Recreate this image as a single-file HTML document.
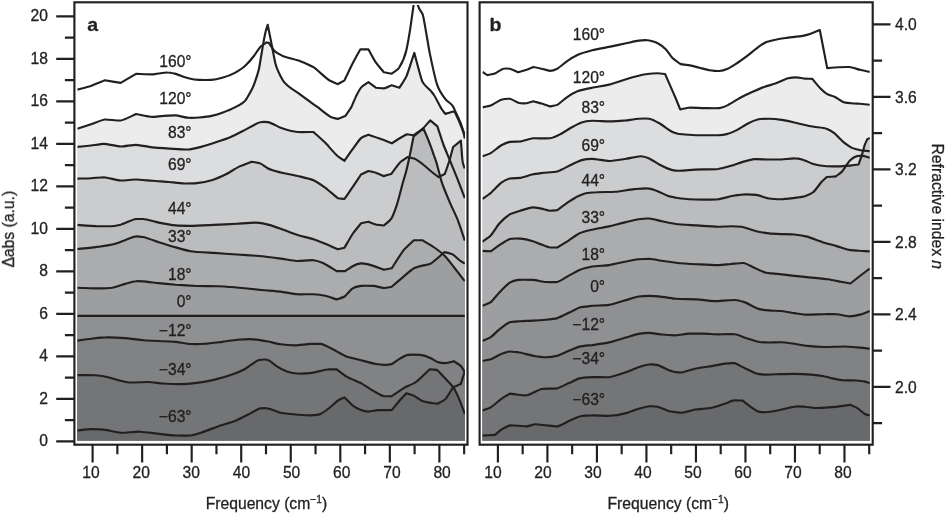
<!DOCTYPE html>
<html lang="en"><head><meta charset="utf-8"><title>Figure</title>
<style>html,body{margin:0;padding:0;background:#fff}body{width:946px;height:513px;overflow:hidden}svg{display:block}
text{font-family:"Liberation Sans",Arial,Helvetica,sans-serif;fill:#231f20;stroke:#231f20;stroke-width:0.3px}
.c{fill:none;stroke:#231f20;stroke-width:2.15;stroke-linejoin:round;stroke-linecap:butt}
.t{stroke:#231f20;stroke-width:2.15;fill:none}
</style></head><body>
<svg width="946" height="513" viewBox="0 0 946 513">
<rect width="946" height="513" fill="#fff"/>
<defs>
<clipPath id="ca"><rect x="77.3" y="4.9" width="387.7" height="435.7"/></clipPath>
<clipPath id="cb"><rect x="482.5" y="4.9" width="387.4" height="435.7"/></clipPath>
</defs>
<g clip-path="url(#ca)">
<path d="M77.3,89.6C79.9,88.9 87.5,87.1 90.1,86.3C93.1,85.3 101.9,81.5 104.9,80.3C108.1,80.8 117.5,82.4 120.7,82.9C123.8,81.1 132.9,75.6 136.0,73.8C139.3,73.9 149.2,74.5 152.5,74.4C155.5,74.3 164.7,72.4 167.7,72.5C169.1,72.5 173.3,73.3 174.7,73.6C177.4,74.2 185.7,77.6 188.4,78.2C190.5,78.7 196.9,79.8 199.0,79.9C201.5,80.0 209.1,80.0 211.6,79.9C213.7,79.8 220.1,78.4 222.2,77.8C224.7,77.1 232.4,74.3 234.9,72.9C237.0,71.7 243.4,67.5 245.5,65.5C247.2,63.9 252.2,58.2 253.9,56.0C255.2,54.3 259.0,48.3 260.3,46.9C261.6,45.5 265.3,43.2 266.6,42.3C267.1,42.4 268.5,42.9 269.0,43.0C270.1,44.5 273.2,49.5 274.3,50.7C276.0,52.6 281.1,55.1 282.8,56.0C286.2,57.7 296.3,59.6 299.7,60.9C302.5,62.0 310.7,65.5 313.5,67.2C316.7,69.2 326.1,78.5 329.3,80.3C331.0,81.3 336.1,83.3 337.8,84.1C339.1,83.3 343.2,81.1 344.5,80.3C346.1,76.9 351.0,66.5 352.6,63.4C354.2,60.4 358.8,52.1 360.4,49.3C362.0,49.3 366.8,49.3 368.4,49.3C369.9,51.9 374.3,60.2 375.8,62.4C377.4,64.8 382.3,70.3 383.9,72.3C385.5,72.6 390.1,73.3 391.7,73.6C393.2,72.4 397.6,70.1 399.1,67.7C400.6,65.3 405.0,56.4 406.5,49.7C407.2,46.4 409.4,34.2 410.1,29.6C410.8,25.3 412.8,10.5 413.5,5.7C413.9,2.8 415.2,-6.1 415.6,-9.0C416.1,-6.1 417.6,3.4 418.1,5.7C419.0,9.9 421.9,11.6 422.8,14.8C424.2,19.5 428.3,46.1 429.7,52.9C431.2,60.2 435.6,80.0 437.1,84.6C438.8,89.9 443.9,97.2 445.6,99.4C447.1,101.4 451.6,103.6 453.1,106.5C453.5,107.3 454.7,110.0 455.1,110.9C456.2,113.2 459.3,119.8 460.4,122.5C461.3,124.8 463.9,132.7 464.8,135.2L465.8,135.2V442.6H76.3V89.6Z" fill="#ffffff"/>
<path d="M77.3,128.7C80.1,127.8 88.3,125.2 91.1,124.3C93.9,123.4 102.1,119.7 104.9,119.5C108.1,119.3 117.5,120.8 120.7,120.5C123.8,120.2 132.9,115.3 136.0,114.0C139.3,114.6 149.2,116.9 152.5,116.9C154.6,116.9 160.9,116.0 163.0,115.9C165.5,115.7 173.2,115.3 175.7,115.4C178.2,115.5 185.9,117.7 188.4,117.8C190.5,117.9 196.9,117.7 199.0,117.5C201.5,117.3 209.1,116.5 211.6,115.9C213.7,115.4 220.1,113.5 222.2,112.7C224.7,111.8 232.4,108.8 234.9,107.4C237.0,106.2 243.4,103.1 245.5,100.3C247.2,98.1 252.3,89.2 254.0,84.6C255.0,81.8 258.2,72.8 259.2,67.7C259.8,64.5 261.8,52.0 262.4,48.6C262.5,47.8 263.0,45.6 263.1,44.8C263.8,44.3 265.9,42.8 266.6,42.3C267.1,42.4 268.5,42.9 269.0,43.0C269.7,44.0 271.6,45.6 272.3,47.8C272.9,49.8 274.8,60.8 275.4,63.4C276.9,69.6 281.3,77.6 282.8,80.3C286.2,86.5 296.3,91.5 299.7,94.1C303.3,96.9 314.1,104.6 317.7,107.2C320.4,109.2 328.7,116.1 331.4,117.2C332.7,117.7 336.5,118.6 337.8,118.9C339.3,118.3 343.7,116.7 345.2,116.1C346.5,114.2 350.2,109.3 351.5,106.8C352.3,105.1 354.9,98.8 355.7,97.1C356.8,94.9 359.9,89.1 361.0,87.7C362.5,85.7 366.9,83.1 368.4,82.0C369.9,83.1 374.3,86.6 375.8,87.7C377.4,87.8 382.3,88.5 383.9,88.4C385.5,88.3 390.1,85.8 391.7,85.2C393.3,85.7 397.9,87.2 399.5,87.7C400.9,85.4 405.1,79.3 406.5,76.1C408.1,72.5 412.7,57.5 414.3,52.9C415.9,58.6 420.7,77.6 422.3,81.4C424.0,85.4 429.1,88.8 430.8,90.9C431.4,91.7 433.4,94.1 434.0,95.0C435.5,97.2 440.1,106.7 441.6,109.0C442.3,110.1 444.6,112.9 445.3,113.9C446.9,113.4 451.5,112.0 453.1,111.5C453.5,111.6 454.5,112.1 454.9,112.2C455.9,114.4 458.9,120.8 459.9,123.3C460.7,125.3 463.1,130.8 463.9,134.3C464.1,135.1 464.6,137.7 464.8,138.5L465.8,138.5V442.6H76.3V128.7Z" fill="#ececed"/>
<path d="M77.3,146.9C80.1,146.6 88.3,145.8 91.1,145.5C93.6,145.2 101.3,143.8 103.8,143.8C107.2,143.8 117.3,146.5 120.7,146.5C123.8,146.5 132.9,144.8 136.0,144.8C139.3,144.8 149.2,147.0 152.5,147.4C155.9,147.8 166.0,148.4 169.4,148.6C173.2,148.8 184.6,149.7 188.4,149.5C190.9,149.4 198.5,147.5 201.0,146.9C204.0,146.1 212.9,143.3 215.9,142.3C218.9,141.3 227.7,138.3 230.7,137.0C233.7,135.7 242.5,131.1 245.5,129.6C248.5,128.1 257.3,122.7 260.3,122.2C261.8,121.9 266.5,122.0 268.0,122.1C270.5,122.3 278.2,126.9 280.7,127.8C284.1,129.0 294.2,131.8 297.6,132.0C300.8,132.2 310.3,132.0 313.5,132.0C315.8,134.1 322.8,140.3 325.1,142.6C327.6,145.1 335.3,154.2 337.8,156.3C339.1,157.4 343.2,159.9 344.5,160.8C346.1,158.5 351.0,151.4 352.6,149.2C354.3,146.9 359.3,139.6 361.0,138.1C362.5,136.8 366.9,135.4 368.4,134.7C370.8,135.5 378.0,137.9 380.4,138.8C382.7,139.6 389.5,142.4 391.8,143.3C393.5,142.2 398.5,139.0 400.2,138.0C401.5,137.2 405.5,135.0 406.8,134.3C408.2,134.5 412.2,135.1 413.6,135.3C415.6,133.8 421.4,129.9 423.4,128.0C424.8,126.7 428.8,121.9 430.2,120.4C431.6,121.6 436.0,125.1 437.4,126.3C438.6,129.8 442.0,140.8 443.2,144.0C444.4,147.3 448.0,155.7 449.2,158.6C451.0,163.1 456.5,176.4 458.3,181.1C459.6,184.4 463.5,194.8 464.8,198.2L465.8,198.2V442.6H76.3V146.9Z" fill="#dcddde"/>
<path d="M77.3,178.6C80.1,178.5 88.3,178.4 91.1,178.2C93.6,178.1 101.3,177.2 103.8,177.2C107.2,177.3 117.3,180.4 120.7,180.5C123.8,180.6 132.9,179.5 136.0,179.5C139.3,179.5 149.2,180.6 152.5,180.8C155.9,181.1 166.0,181.7 169.4,182.0C172.4,182.3 181.2,183.5 184.2,183.5C186.7,183.5 194.3,183.4 196.8,183.1C199.8,182.8 208.6,181.2 211.6,180.3C214.6,179.4 223.4,175.5 226.4,174.0C228.9,172.7 236.6,167.8 239.1,166.6C241.6,165.4 249.3,162.7 251.8,161.7C253.5,162.0 258.6,162.6 260.3,163.4C261.8,164.1 266.5,167.7 268.0,168.5C270.5,169.8 278.2,171.8 280.7,172.5C284.1,173.4 294.2,175.2 297.6,176.0C300.8,176.8 310.3,178.8 313.5,180.3C315.8,181.4 322.8,186.0 325.1,187.7C327.6,189.6 335.3,196.2 337.8,198.3C339.1,198.4 343.2,198.9 344.5,199.0C346.1,196.6 351.0,189.6 352.6,187.2C354.3,184.7 359.3,177.0 361.0,174.5C362.5,173.8 366.9,171.7 368.4,171.0C369.9,171.3 374.3,172.2 375.8,172.7C377.3,173.2 382.0,175.4 383.5,176.1C385.0,175.7 389.7,174.4 391.2,174.0C393.0,171.6 398.4,164.0 400.2,162.2C401.7,160.8 406.0,158.1 407.5,157.1C408.8,157.4 412.9,158.1 414.2,158.6C416.2,159.4 422.3,163.9 424.3,165.5C425.7,166.6 429.9,170.4 431.3,171.5C432.7,172.7 437.1,176.0 438.5,177.1C439.8,176.5 443.5,174.6 444.8,174.0C445.8,171.2 448.6,163.2 449.6,160.0C450.3,157.6 452.4,149.6 453.1,147.0C454.7,145.7 459.3,142.0 460.9,140.7C461.2,144.6 462.1,157.2 462.4,160.0C462.8,164.1 464.2,166.8 464.6,168.5L465.6,168.5V442.6H76.3V178.6Z" fill="#cbcccd"/>
<path d="M77.3,224.9C81.3,225.2 93.5,226.2 97.5,226.2C100.9,226.2 111.0,226.5 114.4,226.0C115.7,225.8 119.4,225.0 120.7,224.7C123.8,223.9 132.9,219.2 136.0,219.0C137.4,218.9 141.5,219.0 142.9,219.0C146.1,219.1 155.6,222.0 158.8,222.6C162.2,223.3 172.3,225.1 175.7,225.4C178.7,225.7 187.5,225.8 190.5,225.8C195.2,225.8 209.1,225.1 213.8,224.9C218.4,224.7 232.4,224.0 237.0,223.7C240.8,223.5 252.2,222.4 256.0,222.6C258.4,222.7 265.6,224.0 268.0,224.6C270.5,225.2 278.2,227.8 280.7,228.7C284.1,229.9 294.2,233.9 297.6,235.0C300.8,236.0 310.3,238.2 313.5,239.3C316.2,240.2 324.5,243.5 327.2,244.6C329.3,245.5 335.7,248.3 337.8,249.2C339.1,248.9 343.2,248.0 344.5,247.7C346.1,245.0 351.0,236.4 352.6,234.0C354.3,231.5 359.3,225.5 361.0,223.4C362.5,223.1 366.9,222.0 368.4,221.7C369.9,222.3 374.3,224.1 375.8,224.5C377.4,224.9 382.3,225.3 383.9,225.5C385.5,224.0 390.1,221.1 391.7,218.1C392.8,216.1 395.9,207.7 397.0,204.4C398.3,200.5 402.0,185.5 403.3,181.1C403.8,179.2 405.5,174.0 406.0,172.0C406.7,169.2 409.0,159.3 409.7,155.8C410.5,152.1 412.8,140.2 413.6,136.3C415.6,134.7 421.4,130.1 423.4,128.5C424.6,131.2 428.0,139.2 429.2,142.2C430.2,144.7 433.1,153.0 434.1,155.8C434.6,157.1 435.9,160.9 436.4,162.3C437.4,165.4 440.4,177.8 441.4,181.1C443.1,186.6 448.1,198.3 449.8,202.3C451.5,206.3 456.6,216.8 458.3,221.3C459.6,224.7 463.5,236.7 464.8,240.6L465.8,240.6V442.6H76.3V224.9Z" fill="#bbbcbe"/>
<path d="M77.3,249.0C81.3,248.6 93.5,247.5 97.5,246.9C100.9,246.4 111.0,245.0 114.4,244.0C116.5,243.4 122.9,240.9 125.0,240.2C127.2,239.4 133.8,236.5 136.0,236.4C137.4,236.3 141.5,236.8 142.9,237.0C146.1,237.5 155.6,241.3 158.8,242.3C162.2,243.4 172.3,246.5 175.7,247.4C178.7,248.2 187.5,250.7 190.5,251.2C195.2,252.1 209.1,252.6 213.8,252.9C218.4,253.2 232.4,254.2 237.0,254.5C240.8,254.8 252.2,255.5 256.0,255.8C258.4,256.0 265.6,256.7 268.0,257.0C270.5,257.3 278.2,258.3 280.7,258.6C284.1,259.0 294.2,260.9 297.6,261.0C300.8,261.1 310.3,259.9 313.5,260.2C315.4,260.4 321.1,262.2 323.0,263.0C325.7,264.1 334.0,269.5 336.7,271.1C338.4,271.1 343.5,271.1 345.2,271.1C346.7,270.1 351.1,267.0 352.6,266.2C354.3,265.3 359.3,263.5 361.0,263.4C362.5,263.3 366.9,264.1 368.4,264.4C371.5,265.0 380.8,268.7 383.9,269.8C385.5,269.5 390.1,268.6 391.7,268.3C394.0,264.8 401.0,253.5 403.3,250.6C405.4,248.0 411.8,242.3 413.9,240.2C415.6,240.2 420.6,240.2 422.3,240.2C424.8,241.8 432.5,246.2 435.0,248.0C437.1,249.5 443.5,254.5 445.6,256.7C447.3,258.5 452.3,265.1 454.0,267.2C456.2,269.9 462.6,278.4 464.8,281.2L465.8,281.2V442.6H76.3V249.0Z" fill="#abacae"/>
<path d="M77.3,287.7C81.3,287.8 93.5,288.4 97.5,288.4C100.5,288.4 109.3,288.2 112.3,287.7C114.8,287.2 122.5,284.6 125.0,283.9C127.2,283.3 133.8,281.3 136.0,281.2C137.4,281.1 141.5,281.3 142.9,281.4C146.1,281.6 155.6,282.8 158.8,283.1C162.2,283.5 172.3,284.5 175.7,284.8C179.9,285.1 192.6,285.8 196.8,286.0C201.0,286.2 213.8,286.1 218.0,286.3C222.2,286.5 234.9,287.3 239.1,287.7C243.3,288.1 256.1,289.5 260.3,289.9C261.8,290.0 266.5,290.4 268.0,290.5C270.5,290.7 278.2,291.3 280.7,291.6C284.1,292.0 294.2,294.2 297.6,294.3C300.8,294.4 310.3,294.2 313.5,294.3C315.8,294.4 322.8,295.3 325.1,295.8C327.4,296.3 334.4,298.7 336.7,299.4C338.3,298.8 342.9,297.6 344.5,296.5C346.1,295.4 351.0,289.5 352.6,288.4C354.3,287.3 359.3,286.1 361.0,285.9C363.5,285.7 371.2,285.8 373.7,285.9C375.7,286.0 381.9,288.0 383.9,288.0C385.5,288.0 390.1,287.0 391.7,286.7C394.0,284.7 401.0,278.7 403.3,276.8C405.4,275.0 411.8,269.4 413.9,268.3C415.6,267.4 420.6,266.0 422.3,265.6C423.8,265.2 428.2,264.7 429.7,264.1C432.2,263.0 439.7,255.9 442.2,253.9C442.9,254.5 444.9,256.1 445.6,256.7C447.3,258.3 452.3,265.1 454.0,267.2C456.2,269.9 462.6,278.4 464.8,281.2L465.8,281.2V442.6H76.3V287.7Z" fill="#9d9ea0"/>
<path d="M77.3,315.9 L464.8,315.9L465.8,315.9V442.6H76.3V315.9Z" fill="#8f9092"/>
<path d="M77.3,340.6C80.1,340.2 88.3,339.0 91.1,338.7C94.1,338.4 103.0,337.4 106.0,337.4C109.8,337.3 121.2,337.8 125.0,338.1C128.8,338.4 140.2,339.9 144.0,340.2C147.8,340.5 159.2,341.0 163.0,341.2C165.5,341.3 173.2,341.7 175.7,341.9C178.7,342.2 187.5,343.9 190.5,344.0C193.5,344.1 202.3,344.0 205.3,343.8C208.7,343.6 218.8,342.3 222.2,341.9C225.2,341.5 234.0,340.0 237.0,339.7C239.5,339.5 247.2,339.1 249.7,339.1C253.4,339.1 264.3,340.8 268.0,341.5C270.5,342.0 278.2,343.9 280.7,344.3C283.7,344.8 292.5,345.4 295.5,345.4C298.5,345.4 307.3,344.0 310.3,343.9C312.4,343.9 318.8,343.7 320.9,343.9C323.0,344.1 329.3,347.5 331.4,348.5C334.2,349.8 342.4,354.8 345.2,355.9C348.4,357.2 357.8,359.4 361.0,360.2C364.0,361.0 372.8,363.5 375.8,364.0C377.5,364.3 382.6,364.8 384.3,364.8C385.8,364.8 390.2,364.6 391.7,364.0C393.2,363.4 397.6,360.0 399.1,359.1C400.8,358.1 405.8,355.2 407.5,354.9C410.0,354.5 417.7,354.7 420.2,354.9C422.3,355.1 428.7,357.2 430.8,358.2C432.1,358.8 436.2,361.5 437.5,362.0C439.1,362.6 443.7,363.1 445.3,363.1C447.0,363.1 452.1,361.6 453.8,361.2C455.3,362.3 459.8,364.5 461.3,366.5C462.0,367.4 463.9,370.7 464.6,371.7L465.6,371.7V442.6H76.3V340.6Z" fill="#818284"/>
<path d="M77.3,375.1C80.9,375.1 91.8,375.0 95.4,375.3C97.9,375.5 105.6,376.6 108.1,377.2C110.2,377.7 116.5,379.8 118.6,380.3C120.7,380.8 127.1,382.4 129.2,382.5C133.0,382.7 144.4,381.9 148.2,382.0C151.2,382.1 160.0,383.3 163.0,383.5C166.4,383.7 176.5,384.1 179.9,384.1C183.3,384.1 193.4,383.3 196.8,382.9C200.2,382.5 210.4,380.7 213.8,379.9C217.2,379.1 227.3,376.3 230.7,375.1C233.7,374.0 242.5,370.3 245.5,368.7C248.0,367.3 255.7,361.1 258.2,360.3C259.5,359.9 263.2,359.5 264.5,359.5C265.4,359.5 268.1,360.1 269.0,360.5C270.5,361.1 275.0,365.1 276.5,366.1C278.6,367.5 284.9,370.7 287.0,371.4C289.1,372.1 295.5,373.4 297.6,373.5C300.1,373.6 307.8,373.4 310.3,373.1C314.1,372.7 325.5,369.4 329.3,369.3C330.8,369.3 335.2,369.3 336.7,369.3C338.6,370.7 344.3,375.1 346.2,376.3C349.2,378.2 358.0,381.5 361.0,383.1C363.5,384.5 371.2,389.7 373.7,391.1C375.7,392.2 381.9,396.0 383.9,396.2C385.5,396.4 390.1,396.2 391.7,396.2C394.0,394.6 401.0,389.7 403.3,388.3C405.8,386.8 413.5,383.8 416.0,382.0C418.7,380.1 427.0,371.8 429.7,369.3C431.2,369.4 435.6,369.8 437.1,369.9C438.8,371.7 443.9,376.9 445.6,378.8C447.3,380.6 452.3,385.4 454.0,388.3C455.3,390.5 459.1,398.9 460.4,402.1C461.3,404.3 463.9,411.6 464.8,414.0L465.8,414.0V442.6H76.3V375.1Z" fill="#747577"/>
<path d="M77.3,430.6C80.1,430.3 88.3,429.1 91.1,429.1C93.6,429.1 101.3,429.3 103.8,429.6C107.2,429.9 117.3,432.6 120.7,432.7C124.5,432.8 136.0,431.6 139.8,431.7C143.6,431.8 155.0,433.4 158.8,433.8C162.2,434.2 172.3,435.4 175.7,435.5C178.7,435.6 187.5,435.7 190.5,435.5C192.6,435.3 198.9,433.3 201.0,432.7C204.4,431.7 214.6,427.6 218.0,426.4C221.4,425.2 231.5,422.5 234.9,421.1C237.4,420.0 245.1,416.1 247.6,414.8C250.1,413.5 257.8,408.9 260.3,408.4C261.6,408.2 265.3,408.1 266.6,408.2C267.3,408.2 269.3,408.8 270.0,409.0C271.7,409.5 276.9,411.7 278.6,412.2C281.6,413.1 290.4,414.0 293.4,414.3C296.8,414.7 306.9,415.5 310.3,415.4C312.4,415.3 318.8,414.7 320.9,413.7C322.6,412.9 327.6,409.3 329.3,408.0C331.2,406.6 336.9,401.1 338.8,400.0C339.9,399.3 343.4,397.9 344.5,397.4C346.1,399.0 351.0,404.0 352.6,405.3C354.3,406.6 359.3,409.5 361.0,410.1C362.5,410.7 366.9,411.6 368.4,411.6C370.3,411.6 376.1,410.2 378.0,410.1C380.7,410.0 389.0,410.1 391.7,410.1C393.4,408.1 398.4,401.9 400.1,400.0C401.4,398.6 405.2,394.6 406.5,393.2C408.0,393.7 412.4,395.0 413.9,395.7C415.6,396.5 420.6,400.2 422.3,401.0C425.3,402.4 434.1,403.2 437.1,403.8C438.8,402.8 443.9,400.7 445.6,398.9C447.2,397.2 451.9,389.5 453.5,387.2C454.9,390.2 459.0,398.7 460.4,402.1C461.3,404.3 463.9,411.6 464.8,414.0L465.8,414.0V442.6H76.3V430.6Z" fill="#68696b"/>
<path class="c" d="M77.3,89.6C79.9,88.9 87.5,87.1 90.1,86.3C93.1,85.3 101.9,81.5 104.9,80.3C108.1,80.8 117.5,82.4 120.7,82.9C123.8,81.1 132.9,75.6 136.0,73.8C139.3,73.9 149.2,74.5 152.5,74.4C155.5,74.3 164.7,72.4 167.7,72.5C169.1,72.5 173.3,73.3 174.7,73.6C177.4,74.2 185.7,77.6 188.4,78.2C190.5,78.7 196.9,79.8 199.0,79.9C201.5,80.0 209.1,80.0 211.6,79.9C213.7,79.8 220.1,78.4 222.2,77.8C224.7,77.1 232.4,74.3 234.9,72.9C237.0,71.7 243.4,67.5 245.5,65.5C247.2,63.9 252.2,58.2 253.9,56.0C255.2,54.3 259.0,48.3 260.3,46.9C261.6,45.5 265.3,43.2 266.6,42.3C267.1,42.4 268.5,42.9 269.0,43.0C270.1,44.5 273.2,49.5 274.3,50.7C276.0,52.6 281.1,55.1 282.8,56.0C286.2,57.7 296.3,59.6 299.7,60.9C302.5,62.0 310.7,65.5 313.5,67.2C316.7,69.2 326.1,78.5 329.3,80.3C331.0,81.3 336.1,83.3 337.8,84.1C339.1,83.3 343.2,81.1 344.5,80.3C346.1,76.9 351.0,66.5 352.6,63.4C354.2,60.4 358.8,52.1 360.4,49.3C362.0,49.3 366.8,49.3 368.4,49.3C369.9,51.9 374.3,60.2 375.8,62.4C377.4,64.8 382.3,70.3 383.9,72.3C385.5,72.6 390.1,73.3 391.7,73.6C393.2,72.4 397.6,70.1 399.1,67.7C400.6,65.3 405.0,56.4 406.5,49.7C407.2,46.4 409.4,34.2 410.1,29.6C410.8,25.3 412.8,10.5 413.5,5.7C413.9,2.8 415.2,-6.1 415.6,-9.0C416.1,-6.1 417.6,3.4 418.1,5.7C419.0,9.9 421.9,11.6 422.8,14.8C424.2,19.5 428.3,46.1 429.7,52.9C431.2,60.2 435.6,80.0 437.1,84.6C438.8,89.9 443.9,97.2 445.6,99.4C447.1,101.4 451.6,103.6 453.1,106.5C453.5,107.3 454.7,110.0 455.1,110.9C456.2,113.2 459.3,119.8 460.4,122.5C461.3,124.8 463.9,132.7 464.8,135.2"/>
<path class="c" d="M77.3,128.7C80.1,127.8 88.3,125.2 91.1,124.3C93.9,123.4 102.1,119.7 104.9,119.5C108.1,119.3 117.5,120.8 120.7,120.5C123.8,120.2 132.9,115.3 136.0,114.0C139.3,114.6 149.2,116.9 152.5,116.9C154.6,116.9 160.9,116.0 163.0,115.9C165.5,115.7 173.2,115.3 175.7,115.4C178.2,115.5 185.9,117.7 188.4,117.8C190.5,117.9 196.9,117.7 199.0,117.5C201.5,117.3 209.1,116.5 211.6,115.9C213.7,115.4 220.1,113.5 222.2,112.7C224.7,111.8 232.4,108.8 234.9,107.4C237.0,106.2 243.4,103.1 245.5,100.3C247.2,98.1 252.3,89.2 254.0,84.6C255.0,81.8 258.2,72.8 259.2,67.7C259.8,64.5 261.8,52.2 262.4,48.6C263.0,45.0 265.0,34.3 265.6,31.7C266.0,30.0 267.3,26.2 267.7,24.8C268.4,28.3 270.5,38.8 271.2,42.3C272.0,46.5 274.6,60.0 275.4,63.4C276.9,69.4 281.3,77.6 282.8,80.3C286.2,86.5 296.3,91.5 299.7,94.1C303.3,96.9 314.1,104.6 317.7,107.2C320.4,109.2 328.7,116.1 331.4,117.2C332.7,117.7 336.5,118.6 337.8,118.9C339.3,118.3 343.7,116.7 345.2,116.1C346.5,114.2 350.2,109.3 351.5,106.8C352.3,105.1 354.9,98.8 355.7,97.1C356.8,94.9 359.9,89.1 361.0,87.7C362.5,85.7 366.9,83.1 368.4,82.0C369.9,83.1 374.3,86.6 375.8,87.7C377.4,87.8 382.3,88.5 383.9,88.4C385.5,88.3 390.1,85.8 391.7,85.2C393.3,85.7 397.9,87.2 399.5,87.7C400.9,85.4 405.1,79.3 406.5,76.1C408.1,72.5 412.7,57.5 414.3,52.9C415.9,58.6 420.7,77.6 422.3,81.4C424.0,85.4 429.1,88.8 430.8,90.9C431.4,91.7 433.4,94.1 434.0,95.0C435.5,97.2 440.1,106.7 441.6,109.0C442.3,110.1 444.6,112.9 445.3,113.9C446.9,113.4 451.5,112.0 453.1,111.5C453.5,111.6 454.5,112.1 454.9,112.2C455.9,114.4 458.9,120.8 459.9,123.3C460.7,125.3 463.1,130.8 463.9,134.3C464.1,135.1 464.6,137.7 464.8,138.5"/>
<path class="c" d="M77.3,146.9C80.1,146.6 88.3,145.8 91.1,145.5C93.6,145.2 101.3,143.8 103.8,143.8C107.2,143.8 117.3,146.5 120.7,146.5C123.8,146.5 132.9,144.8 136.0,144.8C139.3,144.8 149.2,147.0 152.5,147.4C155.9,147.8 166.0,148.4 169.4,148.6C173.2,148.8 184.6,149.7 188.4,149.5C190.9,149.4 198.5,147.5 201.0,146.9C204.0,146.1 212.9,143.3 215.9,142.3C218.9,141.3 227.7,138.3 230.7,137.0C233.7,135.7 242.5,131.1 245.5,129.6C248.5,128.1 257.3,122.7 260.3,122.2C261.8,121.9 266.5,122.0 268.0,122.1C270.5,122.3 278.2,126.9 280.7,127.8C284.1,129.0 294.2,131.8 297.6,132.0C300.8,132.2 310.3,132.0 313.5,132.0C315.8,134.1 322.8,140.3 325.1,142.6C327.6,145.1 335.3,154.2 337.8,156.3C339.1,157.4 343.2,159.9 344.5,160.8C346.1,158.5 351.0,151.4 352.6,149.2C354.3,146.9 359.3,139.6 361.0,138.1C362.5,136.8 366.9,135.4 368.4,134.7C370.8,135.5 378.0,137.9 380.4,138.8C382.7,139.6 389.5,142.4 391.8,143.3C393.5,142.2 398.5,139.0 400.2,138.0C401.5,137.2 405.5,135.0 406.8,134.3C408.2,134.5 412.2,135.1 413.6,135.3C415.6,133.8 421.4,129.9 423.4,128.0C424.8,126.7 428.8,121.9 430.2,120.4C431.6,121.6 436.0,125.1 437.4,126.3C438.6,129.8 442.0,140.8 443.2,144.0C444.4,147.3 448.0,155.7 449.2,158.6C451.0,163.1 456.5,176.4 458.3,181.1C459.6,184.4 463.5,194.8 464.8,198.2"/>
<path class="c" d="M77.3,178.6C80.1,178.5 88.3,178.4 91.1,178.2C93.6,178.1 101.3,177.2 103.8,177.2C107.2,177.3 117.3,180.4 120.7,180.5C123.8,180.6 132.9,179.5 136.0,179.5C139.3,179.5 149.2,180.6 152.5,180.8C155.9,181.1 166.0,181.7 169.4,182.0C172.4,182.3 181.2,183.5 184.2,183.5C186.7,183.5 194.3,183.4 196.8,183.1C199.8,182.8 208.6,181.2 211.6,180.3C214.6,179.4 223.4,175.5 226.4,174.0C228.9,172.7 236.6,167.8 239.1,166.6C241.6,165.4 249.3,162.7 251.8,161.7C253.5,162.0 258.6,162.6 260.3,163.4C261.8,164.1 266.5,167.7 268.0,168.5C270.5,169.8 278.2,171.8 280.7,172.5C284.1,173.4 294.2,175.2 297.6,176.0C300.8,176.8 310.3,178.8 313.5,180.3C315.8,181.4 322.8,186.0 325.1,187.7C327.6,189.6 335.3,196.2 337.8,198.3C339.1,198.4 343.2,198.9 344.5,199.0C346.1,196.6 351.0,189.6 352.6,187.2C354.3,184.7 359.3,177.0 361.0,174.5C362.5,173.8 366.9,171.7 368.4,171.0C369.9,171.3 374.3,172.2 375.8,172.7C377.3,173.2 382.0,175.4 383.5,176.1C385.0,175.7 389.7,174.4 391.2,174.0C393.0,171.6 398.4,164.0 400.2,162.2C401.7,160.8 406.0,158.1 407.5,157.1C408.8,157.4 412.9,158.1 414.2,158.6C416.2,159.4 422.3,163.9 424.3,165.5C425.7,166.6 429.9,170.4 431.3,171.5C432.7,172.7 437.1,176.0 438.5,177.1C439.8,176.5 443.5,174.6 444.8,174.0C445.8,171.2 448.6,163.2 449.6,160.0C450.3,157.6 452.4,149.6 453.1,147.0C454.7,145.7 459.3,142.0 460.9,140.7C461.2,144.6 462.1,157.2 462.4,160.0C462.8,164.1 464.2,166.8 464.6,168.5"/>
<path class="c" d="M77.3,224.9C81.3,225.2 93.5,226.2 97.5,226.2C100.9,226.2 111.0,226.5 114.4,226.0C115.7,225.8 119.4,225.0 120.7,224.7C123.8,223.9 132.9,219.2 136.0,219.0C137.4,218.9 141.5,219.0 142.9,219.0C146.1,219.1 155.6,222.0 158.8,222.6C162.2,223.3 172.3,225.1 175.7,225.4C178.7,225.7 187.5,225.8 190.5,225.8C195.2,225.8 209.1,225.1 213.8,224.9C218.4,224.7 232.4,224.0 237.0,223.7C240.8,223.5 252.2,222.4 256.0,222.6C258.4,222.7 265.6,224.0 268.0,224.6C270.5,225.2 278.2,227.8 280.7,228.7C284.1,229.9 294.2,233.9 297.6,235.0C300.8,236.0 310.3,238.2 313.5,239.3C316.2,240.2 324.5,243.5 327.2,244.6C329.3,245.5 335.7,248.3 337.8,249.2C339.1,248.9 343.2,248.0 344.5,247.7C346.1,245.0 351.0,236.4 352.6,234.0C354.3,231.5 359.3,225.5 361.0,223.4C362.5,223.1 366.9,222.0 368.4,221.7C369.9,222.3 374.3,224.1 375.8,224.5C377.4,224.9 382.3,225.3 383.9,225.5C385.5,224.0 390.1,221.1 391.7,218.1C392.8,216.1 395.9,207.7 397.0,204.4C398.3,200.5 402.0,185.5 403.3,181.1C403.8,179.2 405.5,174.0 406.0,172.0C406.7,169.2 409.0,159.3 409.7,155.8C410.5,152.1 412.8,140.2 413.6,136.3C415.6,134.7 421.4,130.1 423.4,128.5C424.6,131.2 428.0,139.2 429.2,142.2C430.2,144.7 433.1,153.0 434.1,155.8C434.6,157.1 435.9,160.9 436.4,162.3C437.4,165.4 440.4,177.8 441.4,181.1C443.1,186.6 448.1,198.3 449.8,202.3C451.5,206.3 456.6,216.8 458.3,221.3C459.6,224.7 463.5,236.7 464.8,240.6"/>
<path class="c" d="M77.3,249.0C81.3,248.6 93.5,247.5 97.5,246.9C100.9,246.4 111.0,245.0 114.4,244.0C116.5,243.4 122.9,240.9 125.0,240.2C127.2,239.4 133.8,236.5 136.0,236.4C137.4,236.3 141.5,236.8 142.9,237.0C146.1,237.5 155.6,241.3 158.8,242.3C162.2,243.4 172.3,246.5 175.7,247.4C178.7,248.2 187.5,250.7 190.5,251.2C195.2,252.1 209.1,252.6 213.8,252.9C218.4,253.2 232.4,254.2 237.0,254.5C240.8,254.8 252.2,255.5 256.0,255.8C258.4,256.0 265.6,256.7 268.0,257.0C270.5,257.3 278.2,258.3 280.7,258.6C284.1,259.0 294.2,260.9 297.6,261.0C300.8,261.1 310.3,259.9 313.5,260.2C315.4,260.4 321.1,262.2 323.0,263.0C325.7,264.1 334.0,269.5 336.7,271.1C338.4,271.1 343.5,271.1 345.2,271.1C346.7,270.1 351.1,267.0 352.6,266.2C354.3,265.3 359.3,263.5 361.0,263.4C362.5,263.3 366.9,264.1 368.4,264.4C371.5,265.0 380.8,268.7 383.9,269.8C385.5,269.5 390.1,268.6 391.7,268.3C394.0,264.8 401.0,253.5 403.3,250.6C405.4,248.0 411.8,242.3 413.9,240.2C415.6,240.2 420.6,240.2 422.3,240.2C424.8,241.8 432.5,246.2 435.0,248.0C437.1,249.5 443.5,254.5 445.6,256.7C447.3,258.5 452.3,265.1 454.0,267.2C456.2,269.9 462.6,278.4 464.8,281.2"/>
<path class="c" d="M77.3,287.7C81.3,287.8 93.5,288.4 97.5,288.4C100.5,288.4 109.3,288.2 112.3,287.7C114.8,287.2 122.5,284.6 125.0,283.9C127.2,283.3 133.8,281.3 136.0,281.2C137.4,281.1 141.5,281.3 142.9,281.4C146.1,281.6 155.6,282.8 158.8,283.1C162.2,283.5 172.3,284.5 175.7,284.8C179.9,285.1 192.6,285.8 196.8,286.0C201.0,286.2 213.8,286.1 218.0,286.3C222.2,286.5 234.9,287.3 239.1,287.7C243.3,288.1 256.1,289.5 260.3,289.9C261.8,290.0 266.5,290.4 268.0,290.5C270.5,290.7 278.2,291.3 280.7,291.6C284.1,292.0 294.2,294.2 297.6,294.3C300.8,294.4 310.3,294.2 313.5,294.3C315.8,294.4 322.8,295.3 325.1,295.8C327.4,296.3 334.4,298.7 336.7,299.4C338.3,298.8 342.9,297.6 344.5,296.5C346.1,295.4 351.0,289.5 352.6,288.4C354.3,287.3 359.3,286.1 361.0,285.9C363.5,285.7 371.2,285.8 373.7,285.9C375.7,286.0 381.9,288.0 383.9,288.0C385.5,288.0 390.1,287.0 391.7,286.7C394.0,284.7 401.0,278.7 403.3,276.8C405.4,275.0 411.8,269.4 413.9,268.3C415.6,267.4 420.6,266.0 422.3,265.6C423.8,265.2 428.2,264.7 429.7,264.1C432.7,262.9 441.5,254.5 444.5,252.1C446.2,252.6 451.3,253.6 453.0,254.6C454.5,255.5 458.9,259.9 460.4,260.9C461.3,261.5 463.9,263.1 464.8,263.6"/>
<path class="c" d="M77.3,315.9 L464.8,315.9"/>
<path class="c" d="M77.3,340.6C80.1,340.2 88.3,339.0 91.1,338.7C94.1,338.4 103.0,337.4 106.0,337.4C109.8,337.3 121.2,337.8 125.0,338.1C128.8,338.4 140.2,339.9 144.0,340.2C147.8,340.5 159.2,341.0 163.0,341.2C165.5,341.3 173.2,341.7 175.7,341.9C178.7,342.2 187.5,343.9 190.5,344.0C193.5,344.1 202.3,344.0 205.3,343.8C208.7,343.6 218.8,342.3 222.2,341.9C225.2,341.5 234.0,340.0 237.0,339.7C239.5,339.5 247.2,339.1 249.7,339.1C253.4,339.1 264.3,340.8 268.0,341.5C270.5,342.0 278.2,343.9 280.7,344.3C283.7,344.8 292.5,345.4 295.5,345.4C298.5,345.4 307.3,344.0 310.3,343.9C312.4,343.9 318.8,343.7 320.9,343.9C323.0,344.1 329.3,347.5 331.4,348.5C334.2,349.8 342.4,354.8 345.2,355.9C348.4,357.2 357.8,359.4 361.0,360.2C364.0,361.0 372.8,363.5 375.8,364.0C377.5,364.3 382.6,364.8 384.3,364.8C385.8,364.8 390.2,364.6 391.7,364.0C393.2,363.4 397.6,360.0 399.1,359.1C400.8,358.1 405.8,355.2 407.5,354.9C410.0,354.5 417.7,354.7 420.2,354.9C422.3,355.1 428.7,357.2 430.8,358.2C432.1,358.8 436.2,361.5 437.5,362.0C439.1,362.6 443.7,363.1 445.3,363.1C447.0,363.1 452.1,361.6 453.8,361.2C455.3,362.3 459.8,364.5 461.3,366.5C462.0,367.4 463.9,370.7 464.6,371.7"/>
<path class="c" d="M77.3,375.1C80.9,375.1 91.8,375.0 95.4,375.3C97.9,375.5 105.6,376.6 108.1,377.2C110.2,377.7 116.5,379.8 118.6,380.3C120.7,380.8 127.1,382.4 129.2,382.5C133.0,382.7 144.4,381.9 148.2,382.0C151.2,382.1 160.0,383.3 163.0,383.5C166.4,383.7 176.5,384.1 179.9,384.1C183.3,384.1 193.4,383.3 196.8,382.9C200.2,382.5 210.4,380.7 213.8,379.9C217.2,379.1 227.3,376.3 230.7,375.1C233.7,374.0 242.5,370.3 245.5,368.7C248.0,367.3 255.7,361.1 258.2,360.3C259.5,359.9 263.2,359.5 264.5,359.5C265.4,359.5 268.1,360.1 269.0,360.5C270.5,361.1 275.0,365.1 276.5,366.1C278.6,367.5 284.9,370.7 287.0,371.4C289.1,372.1 295.5,373.4 297.6,373.5C300.1,373.6 307.8,373.4 310.3,373.1C314.1,372.7 325.5,369.4 329.3,369.3C330.8,369.3 335.2,369.3 336.7,369.3C338.6,370.7 344.3,375.1 346.2,376.3C349.2,378.2 358.0,381.5 361.0,383.1C363.5,384.5 371.2,389.7 373.7,391.1C375.7,392.2 381.9,396.0 383.9,396.2C385.5,396.4 390.1,396.2 391.7,396.2C394.0,394.6 401.0,389.7 403.3,388.3C405.8,386.8 413.5,383.8 416.0,382.0C418.7,380.1 427.0,371.8 429.7,369.3C431.2,369.4 435.6,369.8 437.1,369.9C438.8,371.7 443.9,376.9 445.6,378.8C447.3,380.6 452.3,385.4 454.0,388.3C455.3,390.5 459.1,398.9 460.4,402.1C461.3,404.3 463.9,411.6 464.8,414.0"/>
<path class="c" d="M77.3,430.6C80.1,430.3 88.3,429.1 91.1,429.1C93.6,429.1 101.3,429.3 103.8,429.6C107.2,429.9 117.3,432.6 120.7,432.7C124.5,432.8 136.0,431.6 139.8,431.7C143.6,431.8 155.0,433.4 158.8,433.8C162.2,434.2 172.3,435.4 175.7,435.5C178.7,435.6 187.5,435.7 190.5,435.5C192.6,435.3 198.9,433.3 201.0,432.7C204.4,431.7 214.6,427.6 218.0,426.4C221.4,425.2 231.5,422.5 234.9,421.1C237.4,420.0 245.1,416.1 247.6,414.8C250.1,413.5 257.8,408.9 260.3,408.4C261.6,408.2 265.3,408.1 266.6,408.2C267.3,408.2 269.3,408.8 270.0,409.0C271.7,409.5 276.9,411.7 278.6,412.2C281.6,413.1 290.4,414.0 293.4,414.3C296.8,414.7 306.9,415.5 310.3,415.4C312.4,415.3 318.8,414.7 320.9,413.7C322.6,412.9 327.6,409.3 329.3,408.0C331.2,406.6 336.9,401.1 338.8,400.0C339.9,399.3 343.4,397.9 344.5,397.4C346.1,399.0 351.0,404.0 352.6,405.3C354.3,406.6 359.3,409.5 361.0,410.1C362.5,410.7 366.9,411.6 368.4,411.6C370.3,411.6 376.1,410.2 378.0,410.1C380.7,410.0 389.0,410.1 391.7,410.1C393.4,408.1 398.4,401.9 400.1,400.0C401.4,398.6 405.2,394.6 406.5,393.2C408.0,393.7 412.4,395.0 413.9,395.7C415.6,396.5 420.6,400.2 422.3,401.0C425.3,402.4 434.1,403.2 437.1,403.8C438.8,402.8 443.9,400.8 445.6,398.9C447.1,397.3 451.5,389.6 453.0,387.3C454.6,386.7 459.2,384.7 460.8,384.1C461.6,381.6 463.8,374.2 464.6,371.7"/>
</g>
<g clip-path="url(#cb)">
<path d="M482.5,72.0C483.5,72.6 486.5,74.5 487.5,75.1C489.0,74.8 493.4,74.2 494.9,73.6C496.6,73.0 501.7,68.9 503.4,68.7C504.7,68.5 508.4,68.6 509.7,68.7C511.4,68.9 516.5,71.6 518.2,72.3C519.9,71.8 524.9,70.4 526.6,69.8C528.0,69.3 532.0,67.6 533.4,67.0C535.0,67.3 539.8,68.3 541.4,68.7C543.1,69.1 548.2,70.8 549.9,70.8C551.4,70.8 555.8,69.4 557.3,68.7C559.2,67.7 564.9,62.6 566.8,61.3C568.9,59.8 575.3,56.0 577.4,55.0C580.4,53.6 589.2,51.1 592.2,50.3C595.6,49.4 605.7,47.6 609.1,46.9C612.5,46.2 622.6,44.0 626.0,43.3C628.5,42.8 636.2,40.9 638.7,40.6C640.4,40.4 645.4,40.1 647.1,40.2C649.2,40.3 655.6,42.1 657.7,43.3C659.4,44.2 664.5,47.9 666.2,49.7C667.5,51.1 671.2,56.8 672.5,58.1C673.4,59.0 676.1,60.8 677.0,61.5C677.6,62.0 679.6,63.4 680.2,63.8C681.9,64.8 687.0,64.8 688.7,65.1C690.8,65.5 697.2,67.2 699.3,67.7C701.4,68.2 707.7,69.9 709.8,70.2C711.7,70.5 717.4,71.1 719.3,71.0C721.0,70.9 726.1,69.4 727.8,68.7C729.7,67.9 735.4,64.2 737.3,63.0C739.4,61.6 745.8,57.0 747.9,55.4C750.0,53.8 756.4,48.4 758.5,46.9C760.0,45.9 764.4,43.0 765.9,42.3C767.8,41.4 773.5,40.1 775.4,39.7C777.9,39.1 785.6,38.0 788.1,37.6C791.0,37.2 799.9,36.6 802.8,35.9C804.5,35.5 809.6,34.0 811.3,33.4C813.0,32.8 818.1,30.7 819.8,30.0C821.3,37.6 825.7,60.5 827.2,68.1C829.5,67.9 836.5,67.3 838.8,67.2C840.9,67.1 847.3,66.9 849.4,67.0C851.5,67.1 857.8,69.3 859.9,69.8C861.9,70.3 867.8,71.6 869.8,72.0L870.8,72.0V442.6H481.5V72.0Z" fill="#ffffff"/>
<path d="M482.5,107.3C484.1,107.0 489.1,106.2 490.7,105.6C492.8,104.8 499.2,100.3 501.3,99.7C503.0,99.2 508.0,98.7 509.7,98.8C511.6,98.9 517.3,102.6 519.2,103.0C520.7,103.3 525.1,103.3 526.6,103.2C528.0,103.1 532.0,101.6 533.4,101.2C535.0,101.7 539.8,103.0 541.4,103.5C543.1,104.0 548.2,105.8 549.9,106.4C551.4,106.1 555.8,105.6 557.3,104.9C559.2,104.0 564.9,98.6 566.8,97.3C568.9,95.8 575.3,92.2 577.4,91.3C580.4,90.0 589.2,88.3 592.2,87.7C595.6,87.0 605.7,85.4 609.1,84.6C612.5,83.8 622.6,80.3 626.0,79.3C628.5,78.5 636.2,76.3 638.7,75.7C640.4,75.3 645.4,74.2 647.1,74.0C649.2,73.7 655.6,73.2 657.7,73.2C659.2,73.2 663.6,73.8 665.1,74.0C667.3,79.0 673.8,93.7 676.0,99.0C676.8,101.0 679.4,107.3 680.2,109.4C681.9,109.1 687.0,107.8 688.7,107.7C691.7,107.5 700.5,108.1 703.5,108.1C706.7,108.1 716.1,108.5 719.3,108.1C721.0,107.9 726.1,105.9 727.8,105.1C730.1,104.0 737.1,99.5 739.4,98.2C741.9,96.8 749.6,93.2 752.1,92.0C754.6,90.9 762.3,87.6 764.8,86.7C766.9,85.9 773.3,84.3 775.4,83.5C777.9,82.6 785.6,78.8 788.1,78.2C789.8,77.8 794.8,77.4 796.5,77.4C798.2,77.4 803.3,78.5 805.0,78.6C806.5,78.7 810.9,78.8 812.4,78.9C813.9,80.7 818.3,86.2 819.8,87.7C821.3,89.2 825.7,93.2 827.2,94.1C828.7,95.0 833.1,96.1 834.6,96.8C836.3,97.6 841.3,101.3 843.0,102.0C844.7,102.7 849.8,103.1 851.5,103.3C853.2,103.5 858.2,103.7 859.9,103.8C861.9,104.0 867.8,104.6 869.8,104.8L870.8,104.8V442.6H481.5V107.3Z" fill="#ececed"/>
<path d="M482.5,156.3C484.1,155.7 489.1,154.0 490.7,153.1C492.8,152.0 499.2,146.5 501.3,145.3C503.0,144.4 508.0,142.3 509.7,141.9C511.8,141.4 518.2,141.8 520.3,141.5C522.8,141.2 530.5,138.5 533.0,138.3C536.4,138.1 546.5,138.7 549.9,138.3C552.0,138.0 558.4,135.2 560.5,134.1C562.6,133.1 568.9,129.0 571.0,127.8C573.1,126.6 579.5,123.2 581.6,122.5C583.7,121.8 590.1,120.9 592.2,120.8C595.6,120.7 605.7,121.4 609.1,121.4C612.5,121.4 622.6,120.7 626.0,120.4C628.5,120.1 636.2,118.8 638.7,118.7C640.8,118.6 647.1,118.5 649.2,118.7C651.3,118.9 657.7,122.3 659.8,123.5C662.3,124.9 670.0,130.9 672.5,132.0C673.6,132.5 676.9,133.4 678.0,133.7C680.1,134.2 686.6,134.6 688.7,134.7C691.7,134.9 700.5,135.2 703.5,135.2C706.5,135.2 715.3,135.3 718.3,135.2C720.0,135.1 725.0,134.5 726.7,134.1C728.8,133.6 735.2,131.0 737.3,129.9C739.4,128.8 745.8,124.6 747.9,123.5C750.0,122.4 756.4,119.8 758.5,119.3C760.6,118.8 766.9,118.7 769.0,118.7C771.5,118.7 779.2,119.5 781.7,119.9C784.2,120.3 791.9,121.9 794.4,122.5C797.4,123.1 806.2,125.5 809.2,126.0C810.5,126.2 814.3,126.8 815.6,127.0C817.8,127.3 824.3,127.8 826.5,128.7C828.1,129.3 832.7,132.0 834.3,133.2C836.1,134.6 841.7,140.7 843.5,142.2C845.1,143.5 849.9,146.8 851.5,147.6C853.1,148.4 857.9,149.6 859.5,150.0C861.6,150.5 867.7,151.0 869.8,151.3L870.8,151.3V442.6H481.5V156.3Z" fill="#dcddde"/>
<path d="M482.5,199.0C484.1,197.8 489.1,194.4 490.7,193.0C492.8,191.2 499.2,184.2 501.3,182.7C503.0,181.5 508.0,179.0 509.7,178.5C511.8,177.9 518.2,178.2 520.3,177.9C522.8,177.5 530.5,174.8 533.0,174.3C535.1,173.9 541.4,173.1 543.5,172.8C546.3,172.5 554.5,172.3 557.3,171.5C560.0,170.7 568.3,166.1 571.0,164.8C573.1,163.8 579.5,160.7 581.6,160.1C583.7,159.5 590.1,158.8 592.2,158.8C595.6,158.8 605.7,161.0 609.1,161.0C612.5,161.0 622.6,159.3 626.0,158.8C629.0,158.4 637.8,156.2 640.8,156.3C642.5,156.4 647.5,157.7 649.2,158.4C651.3,159.3 657.7,163.7 659.8,164.8C662.3,166.1 670.0,169.6 672.5,170.1C673.6,170.3 676.9,170.7 678.0,170.7C680.1,170.8 686.6,170.2 688.7,170.1C691.7,169.9 700.5,169.5 703.5,169.4C706.5,169.3 715.3,169.4 718.3,169.0C720.8,168.6 728.5,166.5 731.0,165.8C733.5,165.1 741.2,162.3 743.7,161.6C745.8,161.0 752.1,159.2 754.2,159.1C757.2,158.9 766.0,159.5 769.0,159.5C771.5,159.5 779.2,159.6 781.7,159.5C784.2,159.4 791.9,158.3 794.4,158.4C796.1,158.4 801.1,159.2 802.8,159.7C804.7,160.2 810.6,163.1 812.5,163.7C815.3,164.6 823.7,166.0 826.5,166.3C829.0,166.5 836.5,166.4 839.0,166.4C841.2,166.4 847.7,165.8 849.9,165.6C851.6,165.4 856.8,164.7 858.5,164.5C859.1,162.8 861.0,157.8 861.6,155.9C862.2,154.0 864.1,146.8 864.7,145.0C865.2,143.6 866.6,140.6 867.1,139.5C867.6,139.2 869.3,138.2 869.8,137.9L870.8,137.9V442.6H481.5V199.0Z" fill="#cbcccd"/>
<path d="M482.5,241.8C484.1,240.5 489.1,237.3 490.7,235.5C492.4,233.7 497.4,225.8 499.1,223.8C501.2,221.3 507.6,215.6 509.7,214.3C511.8,213.0 518.2,211.4 520.3,210.7C522.8,209.9 530.5,207.3 533.0,207.3C534.7,207.3 539.7,208.3 541.4,208.6C543.1,208.9 548.2,210.6 549.9,210.7C551.4,210.8 555.8,210.2 557.3,210.1C559.6,208.4 566.6,203.2 568.9,201.7C570.6,200.6 575.7,197.3 577.4,196.5C579.1,195.7 584.1,193.7 585.8,193.3C587.9,192.8 594.3,192.4 596.4,192.3C600.2,192.0 611.6,192.1 615.4,191.8C619.2,191.5 630.6,189.4 634.4,189.1C636.9,188.9 644.6,188.2 647.1,188.4C649.2,188.5 655.6,190.4 657.7,191.2C659.8,192.0 666.2,195.4 668.3,196.1C669.8,196.6 674.5,197.5 676.0,197.8C678.5,198.3 686.2,199.0 688.7,199.2C691.7,199.4 700.5,199.6 703.5,199.6C706.5,199.6 715.3,199.6 718.3,199.2C721.3,198.8 730.1,196.3 733.1,195.8C735.6,195.4 743.3,194.3 745.8,194.3C747.9,194.3 754.2,194.6 756.3,194.9C758.8,195.3 766.5,198.1 769.0,198.5C771.5,198.9 779.2,199.2 781.7,199.2C784.2,199.2 791.9,198.2 794.4,197.9C796.5,197.6 802.9,196.9 805.0,196.2C806.7,195.6 811.7,193.4 813.4,192.0C815.1,190.5 820.2,183.4 821.9,181.6C822.9,180.6 825.8,177.9 826.8,177.0C828.6,176.9 834.1,176.5 835.9,176.4C837.1,175.4 840.9,172.8 842.1,171.4C842.9,170.5 845.2,167.1 846.0,166.0C846.8,165.9 849.1,165.7 849.9,165.6C851.6,165.4 856.8,164.7 858.5,164.5C859.1,162.7 861.0,157.5 861.6,155.7C861.8,155.7 862.2,155.6 862.4,155.6C863.9,155.5 868.3,157.4 869.8,157.8L870.8,157.8V442.6H481.5V241.8Z" fill="#bbbcbe"/>
<path d="M482.5,250.9C484.1,251.0 489.1,251.2 490.7,251.3C492.4,250.1 497.4,246.5 499.1,245.4C501.2,244.0 507.6,239.7 509.7,239.0C511.8,238.3 518.2,238.5 520.3,238.6C522.8,238.7 530.5,240.4 533.0,241.2C534.7,241.7 539.7,243.9 541.4,244.5C543.1,245.1 548.2,247.4 549.9,247.5C551.4,247.6 555.8,247.5 557.3,247.5C559.6,246.1 566.6,241.8 568.9,240.3C571.0,238.9 577.4,234.3 579.5,233.3C582.0,232.1 589.7,230.3 592.2,229.7C595.6,228.9 605.7,227.2 609.1,226.4C612.5,225.6 622.6,222.9 626.0,222.1C628.5,221.5 636.2,219.6 638.7,219.2C640.8,218.9 647.1,218.4 649.2,218.5C651.7,218.6 659.4,220.8 661.9,221.3C664.7,221.9 673.2,223.6 676.0,224.0C680.2,224.6 692.9,225.1 697.1,225.4C701.3,225.7 714.1,226.7 718.3,226.7C720.8,226.7 728.5,226.2 731.0,226.2C733.1,226.2 739.4,226.4 741.5,226.7C744.5,227.2 753.3,230.6 756.3,231.3C758.8,231.9 766.5,233.1 769.0,233.4C771.5,233.7 779.2,234.0 781.7,234.1C784.2,234.2 791.9,234.2 794.4,234.5C796.9,234.8 804.6,236.0 807.1,236.6C810.1,237.4 818.9,241.0 821.9,241.9C824.9,242.9 833.7,245.2 836.7,246.1C839.2,246.8 846.9,249.4 849.4,249.9C851.5,250.3 857.8,250.6 859.9,250.8C861.9,250.9 867.8,251.3 869.8,251.4L870.8,251.4V442.6H481.5V250.9Z" fill="#abacae"/>
<path d="M482.5,305.8C484.1,305.1 489.1,303.5 490.7,302.2C492.4,300.9 497.4,294.5 499.1,292.7C501.2,290.5 507.6,283.9 509.7,282.6C511.4,281.6 516.5,280.1 518.2,279.9C521.2,279.6 530.0,279.8 533.0,279.9C535.5,280.0 543.2,281.9 545.7,282.0C548.0,282.1 555.0,282.3 557.3,282.0C559.6,281.7 566.6,276.9 568.9,275.6C571.0,274.4 577.4,270.8 579.5,269.9C582.0,268.8 589.7,267.0 592.2,266.5C595.6,265.9 605.7,265.6 609.1,265.1C612.5,264.6 622.6,262.1 626.0,261.5C628.5,261.0 636.2,259.6 638.7,259.3C640.8,259.1 647.1,258.7 649.2,258.7C651.7,258.8 659.4,260.4 661.9,260.8C664.7,261.2 673.2,262.5 676.0,262.8C680.2,263.3 692.9,264.1 697.1,264.3C701.3,264.5 714.1,265.2 718.3,265.1C720.8,265.0 728.5,264.2 731.0,264.0C733.5,263.8 741.2,262.7 743.7,263.0C745.8,263.2 752.1,266.8 754.2,267.7C756.3,268.6 762.7,271.8 764.8,272.4C767.3,273.2 775.0,273.6 777.5,273.9C780.9,274.3 791.0,275.5 794.4,275.9C797.8,276.3 807.9,277.3 811.3,277.6C814.7,277.9 824.8,278.8 828.2,279.3C830.7,279.7 838.4,281.3 840.9,281.8C842.8,282.2 848.5,283.2 850.4,283.5C852.3,282.0 858.0,277.5 859.9,276.0C861.9,274.5 867.8,270.0 869.8,268.5L870.8,268.5V442.6H481.5V305.8Z" fill="#9d9ea0"/>
<path d="M482.5,340.9C484.1,340.1 489.1,338.2 490.7,337.1C492.4,336.0 497.4,331.0 499.1,329.7C501.2,328.0 507.6,323.2 509.7,322.3C511.8,321.4 518.2,321.4 520.3,321.2C522.8,321.0 530.5,320.8 533.0,320.6C535.5,320.5 543.2,320.0 545.7,319.7C548.0,319.5 555.0,318.8 557.3,318.1C559.6,317.4 566.6,313.9 568.9,312.8C571.0,311.8 577.4,308.2 579.5,307.5C582.0,306.7 589.7,306.1 592.2,305.8C595.6,305.5 605.7,305.5 609.1,304.9C612.5,304.3 622.6,301.1 626.0,300.1C628.5,299.4 636.2,296.9 638.7,296.5C640.8,296.2 647.1,295.9 649.2,295.9C651.7,295.9 659.4,296.6 661.9,296.9C664.7,297.2 673.2,298.5 676.0,298.8C680.2,299.2 692.9,299.1 697.1,299.4C700.5,299.6 710.6,301.0 714.0,301.1C718.2,301.2 731.0,299.7 735.2,300.0C736.9,300.1 742.0,301.4 743.7,301.9C746.7,302.8 755.5,308.1 758.5,308.9C760.6,309.5 766.9,310.2 769.0,310.4C771.5,310.7 779.2,310.7 781.7,311.0C784.2,311.3 791.9,312.7 794.4,313.1C796.5,313.4 802.9,314.5 805.0,314.6C808.8,314.8 820.2,314.2 824.0,314.2C826.5,314.2 834.2,314.1 836.7,314.2C839.2,314.3 846.9,316.3 849.4,316.3C851.5,316.3 857.8,315.2 859.9,314.6C861.9,314.1 867.8,311.7 869.8,311.0L870.8,311.0V442.6H481.5V340.9Z" fill="#8f9092"/>
<path d="M482.5,360.8C484.1,360.5 489.1,359.8 490.7,359.3C492.8,358.6 499.2,354.8 501.3,354.0C503.0,353.3 508.0,351.6 509.7,351.5C511.4,351.4 516.5,352.1 518.2,352.3C521.2,352.7 530.0,355.2 533.0,355.7C535.5,356.1 543.2,357.2 545.7,357.2C548.0,357.2 555.0,356.3 557.3,355.7C559.6,355.1 566.6,351.7 568.9,350.8C571.0,349.9 577.4,347.2 579.5,346.6C582.0,345.9 589.7,345.4 592.2,345.1C595.6,344.6 605.7,343.2 609.1,342.4C612.5,341.6 622.6,338.5 626.0,337.5C628.5,336.8 636.2,334.4 638.7,333.9C640.8,333.5 647.1,332.9 649.2,332.9C651.7,332.9 659.4,334.3 661.9,334.5C664.7,334.8 673.2,335.4 676.0,335.3C678.5,335.2 686.2,333.7 688.7,333.6C691.7,333.5 700.5,333.6 703.5,333.6C706.5,333.6 715.3,334.3 718.3,334.3C721.7,334.3 731.8,333.9 735.2,334.3C737.3,334.5 743.7,337.2 745.8,337.9C748.3,338.7 756.0,341.3 758.5,341.7C760.6,342.1 766.9,342.5 769.0,342.5C771.5,342.5 779.2,342.2 781.7,342.3C784.2,342.4 791.9,343.4 794.4,343.8C796.9,344.2 804.6,345.6 807.1,345.9C810.5,346.3 820.6,347.0 824.0,347.0C828.2,347.1 840.9,346.4 845.1,346.5C848.1,346.6 856.9,347.3 859.9,347.6C861.9,347.8 867.8,348.5 869.8,348.7L870.8,348.7V442.6H481.5V360.8Z" fill="#818284"/>
<path d="M482.5,410.5C484.1,409.9 489.1,408.3 490.7,407.4C492.8,406.2 499.2,400.4 501.3,398.9C503.0,397.7 508.0,394.7 509.7,393.6C511.4,393.8 516.5,394.5 518.2,394.7C519.9,394.9 524.9,395.4 526.6,395.3C529.6,395.1 538.4,389.7 541.4,389.0C544.6,388.2 554.1,389.2 557.3,388.3C559.6,387.7 566.6,384.1 568.9,383.1C571.0,382.2 577.4,379.0 579.5,378.4C582.0,377.7 589.7,377.2 592.2,377.1C595.6,377.0 605.7,377.4 609.1,377.2C612.5,377.0 622.6,373.4 626.0,372.2C628.5,371.3 636.2,368.0 638.7,367.2C640.8,366.5 647.1,364.6 649.2,364.5C650.9,364.4 656.0,364.7 657.7,365.1C659.8,365.6 666.2,369.1 668.3,369.9C669.8,370.4 674.5,371.9 676.0,372.1C677.1,372.3 680.2,372.5 681.3,372.5C684.0,372.5 692.3,369.3 695.0,368.7C698.4,367.9 708.5,366.7 711.9,366.1C714.9,365.6 723.7,363.7 726.7,363.4C728.3,363.2 733.2,363.1 734.8,363.0C737.0,364.1 743.6,367.6 745.8,368.7C747.9,369.7 754.2,372.9 756.3,373.5C758.0,374.0 763.1,374.5 764.8,374.6C767.3,374.7 775.0,374.3 777.5,374.2C780.9,374.1 791.0,373.8 794.4,373.8C797.8,373.8 807.9,374.3 811.3,374.6C813.8,374.8 821.5,375.8 824.0,376.3C825.7,376.6 830.8,378.0 832.5,378.4C834.6,378.9 840.9,380.1 843.0,380.3C845.5,380.6 853.2,380.3 855.7,380.5C857.4,380.6 862.5,381.0 864.2,381.4C865.3,381.7 868.7,382.8 869.8,383.1L870.8,383.1V442.6H481.5V410.5Z" fill="#747577"/>
<path d="M482.5,435.5C485.0,435.4 492.4,435.0 494.9,434.9C496.2,433.8 500.0,430.5 501.3,429.6C503.0,428.4 508.0,426.2 509.7,425.3C511.4,425.4 516.5,425.7 518.2,425.8C519.9,425.9 524.9,426.5 526.6,426.4C528.3,426.3 533.4,424.4 535.1,424.3C537.2,424.2 543.6,425.1 545.7,425.3C548.0,425.5 555.0,426.6 557.3,426.4C559.6,426.2 566.6,422.1 568.9,421.1C571.0,420.2 577.4,417.1 579.5,416.5C582.0,415.8 589.7,415.4 592.2,415.4C595.6,415.3 605.7,415.9 609.1,415.8C612.5,415.7 622.6,414.0 626.0,413.1C628.5,412.4 636.2,409.5 638.7,408.8C640.8,408.2 647.1,406.4 649.2,406.3C650.9,406.2 656.0,406.3 657.7,406.7C659.8,407.1 666.2,410.4 668.3,411.0C669.8,411.4 674.5,412.0 676.0,412.2C677.1,412.3 680.2,412.7 681.3,412.7C684.0,412.7 692.3,410.0 695.0,409.5C698.4,408.9 708.5,408.6 711.9,407.8C714.4,407.2 722.1,404.7 724.6,403.8C726.5,403.2 732.2,400.5 734.1,400.4C735.8,400.3 740.9,400.6 742.6,400.6C744.1,401.7 748.5,405.3 750.0,406.3C751.7,407.5 756.8,411.1 758.5,411.6C759.8,412.0 763.5,412.2 764.8,412.2C767.3,412.2 775.0,411.0 777.5,410.5C779.6,410.1 786.0,408.4 788.1,408.0C790.0,407.6 795.7,406.3 797.6,406.3C799.1,406.3 803.5,406.6 805.0,406.7C807.1,406.9 813.4,408.0 815.5,408.0C818.0,408.1 825.7,407.6 828.2,407.4C831.2,407.2 840.0,406.3 843.0,405.9C844.5,405.7 848.9,405.0 850.4,404.8C851.9,405.5 856.3,407.4 857.8,408.4C859.3,409.3 863.7,413.6 865.2,414.3C866.1,414.7 868.9,415.2 869.8,415.4L870.8,415.4V442.6H481.5V435.5Z" fill="#68696b"/>
<path class="c" d="M482.5,72.0C483.5,72.6 486.5,74.5 487.5,75.1C489.0,74.8 493.4,74.2 494.9,73.6C496.6,73.0 501.7,68.9 503.4,68.7C504.7,68.5 508.4,68.6 509.7,68.7C511.4,68.9 516.5,71.6 518.2,72.3C519.9,71.8 524.9,70.4 526.6,69.8C528.0,69.3 532.0,67.6 533.4,67.0C535.0,67.3 539.8,68.3 541.4,68.7C543.1,69.1 548.2,70.8 549.9,70.8C551.4,70.8 555.8,69.4 557.3,68.7C559.2,67.7 564.9,62.6 566.8,61.3C568.9,59.8 575.3,56.0 577.4,55.0C580.4,53.6 589.2,51.1 592.2,50.3C595.6,49.4 605.7,47.6 609.1,46.9C612.5,46.2 622.6,44.0 626.0,43.3C628.5,42.8 636.2,40.9 638.7,40.6C640.4,40.4 645.4,40.1 647.1,40.2C649.2,40.3 655.6,42.1 657.7,43.3C659.4,44.2 664.5,47.9 666.2,49.7C667.5,51.1 671.2,56.8 672.5,58.1C673.4,59.0 676.1,60.8 677.0,61.5C677.6,62.0 679.6,63.4 680.2,63.8C681.9,64.8 687.0,64.8 688.7,65.1C690.8,65.5 697.2,67.2 699.3,67.7C701.4,68.2 707.7,69.9 709.8,70.2C711.7,70.5 717.4,71.1 719.3,71.0C721.0,70.9 726.1,69.4 727.8,68.7C729.7,67.9 735.4,64.2 737.3,63.0C739.4,61.6 745.8,57.0 747.9,55.4C750.0,53.8 756.4,48.4 758.5,46.9C760.0,45.9 764.4,43.0 765.9,42.3C767.8,41.4 773.5,40.1 775.4,39.7C777.9,39.1 785.6,38.0 788.1,37.6C791.0,37.2 799.9,36.6 802.8,35.9C804.5,35.5 809.6,34.0 811.3,33.4C813.0,32.8 818.1,30.7 819.8,30.0C821.3,37.6 825.7,60.5 827.2,68.1C829.5,67.9 836.5,67.3 838.8,67.2C840.9,67.1 847.3,66.9 849.4,67.0C851.5,67.1 857.8,69.3 859.9,69.8C861.9,70.3 867.8,71.6 869.8,72.0"/>
<path class="c" d="M482.5,107.3C484.1,107.0 489.1,106.2 490.7,105.6C492.8,104.8 499.2,100.3 501.3,99.7C503.0,99.2 508.0,98.7 509.7,98.8C511.6,98.9 517.3,102.6 519.2,103.0C520.7,103.3 525.1,103.3 526.6,103.2C528.0,103.1 532.0,101.6 533.4,101.2C535.0,101.7 539.8,103.0 541.4,103.5C543.1,104.0 548.2,105.8 549.9,106.4C551.4,106.1 555.8,105.6 557.3,104.9C559.2,104.0 564.9,98.6 566.8,97.3C568.9,95.8 575.3,92.2 577.4,91.3C580.4,90.0 589.2,88.3 592.2,87.7C595.6,87.0 605.7,85.4 609.1,84.6C612.5,83.8 622.6,80.3 626.0,79.3C628.5,78.5 636.2,76.3 638.7,75.7C640.4,75.3 645.4,74.2 647.1,74.0C649.2,73.7 655.6,73.2 657.7,73.2C659.2,73.2 663.6,73.8 665.1,74.0C667.3,79.0 673.8,93.7 676.0,99.0C676.8,101.0 679.4,107.3 680.2,109.4C681.9,109.1 687.0,107.8 688.7,107.7C691.7,107.5 700.5,108.1 703.5,108.1C706.7,108.1 716.1,108.5 719.3,108.1C721.0,107.9 726.1,105.9 727.8,105.1C730.1,104.0 737.1,99.5 739.4,98.2C741.9,96.8 749.6,93.2 752.1,92.0C754.6,90.9 762.3,87.6 764.8,86.7C766.9,85.9 773.3,84.3 775.4,83.5C777.9,82.6 785.6,78.8 788.1,78.2C789.8,77.8 794.8,77.4 796.5,77.4C798.2,77.4 803.3,78.5 805.0,78.6C806.5,78.7 810.9,78.8 812.4,78.9C813.9,80.7 818.3,86.2 819.8,87.7C821.3,89.2 825.7,93.2 827.2,94.1C828.7,95.0 833.1,96.1 834.6,96.8C836.3,97.6 841.3,101.3 843.0,102.0C844.7,102.7 849.8,103.1 851.5,103.3C853.2,103.5 858.2,103.7 859.9,103.8C861.9,104.0 867.8,104.6 869.8,104.8"/>
<path class="c" d="M482.5,156.3C484.1,155.7 489.1,154.0 490.7,153.1C492.8,152.0 499.2,146.5 501.3,145.3C503.0,144.4 508.0,142.3 509.7,141.9C511.8,141.4 518.2,141.8 520.3,141.5C522.8,141.2 530.5,138.5 533.0,138.3C536.4,138.1 546.5,138.7 549.9,138.3C552.0,138.0 558.4,135.2 560.5,134.1C562.6,133.1 568.9,129.0 571.0,127.8C573.1,126.6 579.5,123.2 581.6,122.5C583.7,121.8 590.1,120.9 592.2,120.8C595.6,120.7 605.7,121.4 609.1,121.4C612.5,121.4 622.6,120.7 626.0,120.4C628.5,120.1 636.2,118.8 638.7,118.7C640.8,118.6 647.1,118.5 649.2,118.7C651.3,118.9 657.7,122.3 659.8,123.5C662.3,124.9 670.0,130.9 672.5,132.0C673.6,132.5 676.9,133.4 678.0,133.7C680.1,134.2 686.6,134.6 688.7,134.7C691.7,134.9 700.5,135.2 703.5,135.2C706.5,135.2 715.3,135.3 718.3,135.2C720.0,135.1 725.0,134.5 726.7,134.1C728.8,133.6 735.2,131.0 737.3,129.9C739.4,128.8 745.8,124.6 747.9,123.5C750.0,122.4 756.4,119.8 758.5,119.3C760.6,118.8 766.9,118.7 769.0,118.7C771.5,118.7 779.2,119.5 781.7,119.9C784.2,120.3 791.9,121.9 794.4,122.5C797.4,123.1 806.2,125.5 809.2,126.0C810.5,126.2 814.3,126.8 815.6,127.0C817.8,127.3 824.3,127.8 826.5,128.7C828.1,129.3 832.7,132.0 834.3,133.2C836.1,134.6 841.7,140.7 843.5,142.2C845.1,143.5 849.9,146.8 851.5,147.6C853.1,148.4 857.9,149.6 859.5,150.0C861.6,150.5 867.7,151.0 869.8,151.3"/>
<path class="c" d="M482.5,199.0C484.1,197.8 489.1,194.4 490.7,193.0C492.8,191.2 499.2,184.2 501.3,182.7C503.0,181.5 508.0,179.0 509.7,178.5C511.8,177.9 518.2,178.2 520.3,177.9C522.8,177.5 530.5,174.8 533.0,174.3C535.1,173.9 541.4,173.1 543.5,172.8C546.3,172.5 554.5,172.3 557.3,171.5C560.0,170.7 568.3,166.1 571.0,164.8C573.1,163.8 579.5,160.7 581.6,160.1C583.7,159.5 590.1,158.8 592.2,158.8C595.6,158.8 605.7,161.0 609.1,161.0C612.5,161.0 622.6,159.3 626.0,158.8C629.0,158.4 637.8,156.2 640.8,156.3C642.5,156.4 647.5,157.7 649.2,158.4C651.3,159.3 657.7,163.7 659.8,164.8C662.3,166.1 670.0,169.6 672.5,170.1C673.6,170.3 676.9,170.7 678.0,170.7C680.1,170.8 686.6,170.2 688.7,170.1C691.7,169.9 700.5,169.5 703.5,169.4C706.5,169.3 715.3,169.4 718.3,169.0C720.8,168.6 728.5,166.5 731.0,165.8C733.5,165.1 741.2,162.3 743.7,161.6C745.8,161.0 752.1,159.2 754.2,159.1C757.2,158.9 766.0,159.5 769.0,159.5C771.5,159.5 779.2,159.6 781.7,159.5C784.2,159.4 791.9,158.3 794.4,158.4C796.1,158.4 801.1,159.2 802.8,159.7C804.7,160.2 810.6,163.1 812.5,163.7C815.3,164.6 823.7,166.0 826.5,166.3C829.0,166.5 836.5,166.4 839.0,166.4C841.2,166.4 847.7,165.8 849.9,165.6C851.6,165.4 856.8,164.7 858.5,164.5C859.1,162.8 861.0,157.8 861.6,155.9C862.2,154.0 864.1,146.8 864.7,145.0C865.2,143.6 866.6,140.6 867.1,139.5C867.6,139.2 869.3,138.2 869.8,137.9"/>
<path class="c" d="M482.5,241.8C484.1,240.5 489.1,237.3 490.7,235.5C492.4,233.7 497.4,225.8 499.1,223.8C501.2,221.3 507.6,215.6 509.7,214.3C511.8,213.0 518.2,211.4 520.3,210.7C522.8,209.9 530.5,207.3 533.0,207.3C534.7,207.3 539.7,208.3 541.4,208.6C543.1,208.9 548.2,210.6 549.9,210.7C551.4,210.8 555.8,210.2 557.3,210.1C559.6,208.4 566.6,203.2 568.9,201.7C570.6,200.6 575.7,197.3 577.4,196.5C579.1,195.7 584.1,193.7 585.8,193.3C587.9,192.8 594.3,192.4 596.4,192.3C600.2,192.0 611.6,192.1 615.4,191.8C619.2,191.5 630.6,189.4 634.4,189.1C636.9,188.9 644.6,188.2 647.1,188.4C649.2,188.5 655.6,190.4 657.7,191.2C659.8,192.0 666.2,195.4 668.3,196.1C669.8,196.6 674.5,197.5 676.0,197.8C678.5,198.3 686.2,199.0 688.7,199.2C691.7,199.4 700.5,199.6 703.5,199.6C706.5,199.6 715.3,199.6 718.3,199.2C721.3,198.8 730.1,196.3 733.1,195.8C735.6,195.4 743.3,194.3 745.8,194.3C747.9,194.3 754.2,194.6 756.3,194.9C758.8,195.3 766.5,198.1 769.0,198.5C771.5,198.9 779.2,199.2 781.7,199.2C784.2,199.2 791.9,198.2 794.4,197.9C796.5,197.6 802.9,196.9 805.0,196.2C806.7,195.6 811.7,193.4 813.4,192.0C815.1,190.5 820.2,183.4 821.9,181.6C822.9,180.6 825.8,177.9 826.8,177.0C828.6,176.9 834.1,176.5 835.9,176.4C837.1,175.4 840.9,172.7 842.1,171.4C843.7,169.7 848.3,162.2 849.9,160.6C851.5,159.0 856.1,156.3 857.7,155.9C858.6,155.6 861.5,155.6 862.4,155.6C863.9,155.7 868.3,157.4 869.8,157.8"/>
<path class="c" d="M482.5,250.9C484.1,251.0 489.1,251.2 490.7,251.3C492.4,250.1 497.4,246.5 499.1,245.4C501.2,244.0 507.6,239.7 509.7,239.0C511.8,238.3 518.2,238.5 520.3,238.6C522.8,238.7 530.5,240.4 533.0,241.2C534.7,241.7 539.7,243.9 541.4,244.5C543.1,245.1 548.2,247.4 549.9,247.5C551.4,247.6 555.8,247.5 557.3,247.5C559.6,246.1 566.6,241.8 568.9,240.3C571.0,238.9 577.4,234.3 579.5,233.3C582.0,232.1 589.7,230.3 592.2,229.7C595.6,228.9 605.7,227.2 609.1,226.4C612.5,225.6 622.6,222.9 626.0,222.1C628.5,221.5 636.2,219.6 638.7,219.2C640.8,218.9 647.1,218.4 649.2,218.5C651.7,218.6 659.4,220.8 661.9,221.3C664.7,221.9 673.2,223.6 676.0,224.0C680.2,224.6 692.9,225.1 697.1,225.4C701.3,225.7 714.1,226.7 718.3,226.7C720.8,226.7 728.5,226.2 731.0,226.2C733.1,226.2 739.4,226.4 741.5,226.7C744.5,227.2 753.3,230.6 756.3,231.3C758.8,231.9 766.5,233.1 769.0,233.4C771.5,233.7 779.2,234.0 781.7,234.1C784.2,234.2 791.9,234.2 794.4,234.5C796.9,234.8 804.6,236.0 807.1,236.6C810.1,237.4 818.9,241.0 821.9,241.9C824.9,242.9 833.7,245.2 836.7,246.1C839.2,246.8 846.9,249.4 849.4,249.9C851.5,250.3 857.8,250.6 859.9,250.8C861.9,250.9 867.8,251.3 869.8,251.4"/>
<path class="c" d="M482.5,305.8C484.1,305.1 489.1,303.5 490.7,302.2C492.4,300.9 497.4,294.5 499.1,292.7C501.2,290.5 507.6,283.9 509.7,282.6C511.4,281.6 516.5,280.1 518.2,279.9C521.2,279.6 530.0,279.8 533.0,279.9C535.5,280.0 543.2,281.9 545.7,282.0C548.0,282.1 555.0,282.3 557.3,282.0C559.6,281.7 566.6,276.9 568.9,275.6C571.0,274.4 577.4,270.8 579.5,269.9C582.0,268.8 589.7,267.0 592.2,266.5C595.6,265.9 605.7,265.6 609.1,265.1C612.5,264.6 622.6,262.1 626.0,261.5C628.5,261.0 636.2,259.6 638.7,259.3C640.8,259.1 647.1,258.7 649.2,258.7C651.7,258.8 659.4,260.4 661.9,260.8C664.7,261.2 673.2,262.5 676.0,262.8C680.2,263.3 692.9,264.1 697.1,264.3C701.3,264.5 714.1,265.2 718.3,265.1C720.8,265.0 728.5,264.2 731.0,264.0C733.5,263.8 741.2,262.7 743.7,263.0C745.8,263.2 752.1,266.8 754.2,267.7C756.3,268.6 762.7,271.8 764.8,272.4C767.3,273.2 775.0,273.6 777.5,273.9C780.9,274.3 791.0,275.5 794.4,275.9C797.8,276.3 807.9,277.3 811.3,277.6C814.7,277.9 824.8,278.8 828.2,279.3C830.7,279.7 838.4,281.3 840.9,281.8C842.8,282.2 848.5,283.2 850.4,283.5C852.3,282.0 858.0,277.5 859.9,276.0C861.9,274.5 867.8,270.0 869.8,268.5"/>
<path class="c" d="M482.5,340.9C484.1,340.1 489.1,338.2 490.7,337.1C492.4,336.0 497.4,331.0 499.1,329.7C501.2,328.0 507.6,323.2 509.7,322.3C511.8,321.4 518.2,321.4 520.3,321.2C522.8,321.0 530.5,320.8 533.0,320.6C535.5,320.5 543.2,320.0 545.7,319.7C548.0,319.5 555.0,318.8 557.3,318.1C559.6,317.4 566.6,313.9 568.9,312.8C571.0,311.8 577.4,308.2 579.5,307.5C582.0,306.7 589.7,306.1 592.2,305.8C595.6,305.5 605.7,305.5 609.1,304.9C612.5,304.3 622.6,301.1 626.0,300.1C628.5,299.4 636.2,296.9 638.7,296.5C640.8,296.2 647.1,295.9 649.2,295.9C651.7,295.9 659.4,296.6 661.9,296.9C664.7,297.2 673.2,298.5 676.0,298.8C680.2,299.2 692.9,299.1 697.1,299.4C700.5,299.6 710.6,301.0 714.0,301.1C718.2,301.2 731.0,299.7 735.2,300.0C736.9,300.1 742.0,301.4 743.7,301.9C746.7,302.8 755.5,308.1 758.5,308.9C760.6,309.5 766.9,310.2 769.0,310.4C771.5,310.7 779.2,310.7 781.7,311.0C784.2,311.3 791.9,312.7 794.4,313.1C796.5,313.4 802.9,314.5 805.0,314.6C808.8,314.8 820.2,314.2 824.0,314.2C826.5,314.2 834.2,314.1 836.7,314.2C839.2,314.3 846.9,316.3 849.4,316.3C851.5,316.3 857.8,315.2 859.9,314.6C861.9,314.1 867.8,311.7 869.8,311.0"/>
<path class="c" d="M482.5,360.8C484.1,360.5 489.1,359.8 490.7,359.3C492.8,358.6 499.2,354.8 501.3,354.0C503.0,353.3 508.0,351.6 509.7,351.5C511.4,351.4 516.5,352.1 518.2,352.3C521.2,352.7 530.0,355.2 533.0,355.7C535.5,356.1 543.2,357.2 545.7,357.2C548.0,357.2 555.0,356.3 557.3,355.7C559.6,355.1 566.6,351.7 568.9,350.8C571.0,349.9 577.4,347.2 579.5,346.6C582.0,345.9 589.7,345.4 592.2,345.1C595.6,344.6 605.7,343.2 609.1,342.4C612.5,341.6 622.6,338.5 626.0,337.5C628.5,336.8 636.2,334.4 638.7,333.9C640.8,333.5 647.1,332.9 649.2,332.9C651.7,332.9 659.4,334.3 661.9,334.5C664.7,334.8 673.2,335.4 676.0,335.3C678.5,335.2 686.2,333.7 688.7,333.6C691.7,333.5 700.5,333.6 703.5,333.6C706.5,333.6 715.3,334.3 718.3,334.3C721.7,334.3 731.8,333.9 735.2,334.3C737.3,334.5 743.7,337.2 745.8,337.9C748.3,338.7 756.0,341.3 758.5,341.7C760.6,342.1 766.9,342.5 769.0,342.5C771.5,342.5 779.2,342.2 781.7,342.3C784.2,342.4 791.9,343.4 794.4,343.8C796.9,344.2 804.6,345.6 807.1,345.9C810.5,346.3 820.6,347.0 824.0,347.0C828.2,347.1 840.9,346.4 845.1,346.5C848.1,346.6 856.9,347.3 859.9,347.6C861.9,347.8 867.8,348.5 869.8,348.7"/>
<path class="c" d="M482.5,410.5C484.1,409.9 489.1,408.3 490.7,407.4C492.8,406.2 499.2,400.4 501.3,398.9C503.0,397.7 508.0,394.7 509.7,393.6C511.4,393.8 516.5,394.5 518.2,394.7C519.9,394.9 524.9,395.4 526.6,395.3C529.6,395.1 538.4,389.7 541.4,389.0C544.6,388.2 554.1,389.2 557.3,388.3C559.6,387.7 566.6,384.1 568.9,383.1C571.0,382.2 577.4,379.0 579.5,378.4C582.0,377.7 589.7,377.2 592.2,377.1C595.6,377.0 605.7,377.4 609.1,377.2C612.5,377.0 622.6,373.4 626.0,372.2C628.5,371.3 636.2,368.0 638.7,367.2C640.8,366.5 647.1,364.6 649.2,364.5C650.9,364.4 656.0,364.7 657.7,365.1C659.8,365.6 666.2,369.1 668.3,369.9C669.8,370.4 674.5,371.9 676.0,372.1C677.1,372.3 680.2,372.5 681.3,372.5C684.0,372.5 692.3,369.3 695.0,368.7C698.4,367.9 708.5,366.7 711.9,366.1C714.9,365.6 723.7,363.7 726.7,363.4C728.3,363.2 733.2,363.1 734.8,363.0C737.0,364.1 743.6,367.6 745.8,368.7C747.9,369.7 754.2,372.9 756.3,373.5C758.0,374.0 763.1,374.5 764.8,374.6C767.3,374.7 775.0,374.3 777.5,374.2C780.9,374.1 791.0,373.8 794.4,373.8C797.8,373.8 807.9,374.3 811.3,374.6C813.8,374.8 821.5,375.8 824.0,376.3C825.7,376.6 830.8,378.0 832.5,378.4C834.6,378.9 840.9,380.1 843.0,380.3C845.5,380.6 853.2,380.3 855.7,380.5C857.4,380.6 862.5,381.0 864.2,381.4C865.3,381.7 868.7,382.8 869.8,383.1"/>
<path class="c" d="M482.5,435.5C485.0,435.4 492.4,435.0 494.9,434.9C496.2,433.8 500.0,430.5 501.3,429.6C503.0,428.4 508.0,426.2 509.7,425.3C511.4,425.4 516.5,425.7 518.2,425.8C519.9,425.9 524.9,426.5 526.6,426.4C528.3,426.3 533.4,424.4 535.1,424.3C537.2,424.2 543.6,425.1 545.7,425.3C548.0,425.5 555.0,426.6 557.3,426.4C559.6,426.2 566.6,422.1 568.9,421.1C571.0,420.2 577.4,417.1 579.5,416.5C582.0,415.8 589.7,415.4 592.2,415.4C595.6,415.3 605.7,415.9 609.1,415.8C612.5,415.7 622.6,414.0 626.0,413.1C628.5,412.4 636.2,409.5 638.7,408.8C640.8,408.2 647.1,406.4 649.2,406.3C650.9,406.2 656.0,406.3 657.7,406.7C659.8,407.1 666.2,410.4 668.3,411.0C669.8,411.4 674.5,412.0 676.0,412.2C677.1,412.3 680.2,412.7 681.3,412.7C684.0,412.7 692.3,410.0 695.0,409.5C698.4,408.9 708.5,408.6 711.9,407.8C714.4,407.2 722.1,404.7 724.6,403.8C726.5,403.2 732.2,400.5 734.1,400.4C735.8,400.3 740.9,400.6 742.6,400.6C744.1,401.7 748.5,405.3 750.0,406.3C751.7,407.5 756.8,411.1 758.5,411.6C759.8,412.0 763.5,412.2 764.8,412.2C767.3,412.2 775.0,411.0 777.5,410.5C779.6,410.1 786.0,408.4 788.1,408.0C790.0,407.6 795.7,406.3 797.6,406.3C799.1,406.3 803.5,406.6 805.0,406.7C807.1,406.9 813.4,408.0 815.5,408.0C818.0,408.1 825.7,407.6 828.2,407.4C831.2,407.2 840.0,406.3 843.0,405.9C844.5,405.7 848.9,405.0 850.4,404.8C851.9,405.5 856.3,407.4 857.8,408.4C859.3,409.3 863.7,413.6 865.2,414.3C866.1,414.7 868.9,415.2 869.8,415.4"/>
</g>
<rect class="t" x="74.4" y="2.3" width="393.1" height="442.4"/>
<rect class="t" x="479.6" y="2.3" width="393.1" height="442.4"/>
<path class="t" d="M56.2,441.30H74.4 M64.9,420.06H74.4 M56.2,398.81H74.4 M64.9,377.56H74.4 M56.2,356.32H74.4 M64.9,335.07H74.4 M56.2,313.83H74.4 M64.9,292.59H74.4 M56.2,271.34H74.4 M64.9,250.09H74.4 M56.2,228.85H74.4 M64.9,207.60H74.4 M56.2,186.36H74.4 M64.9,165.12H74.4 M56.2,143.87H74.4 M64.9,122.62H74.4 M56.2,101.38H74.4 M64.9,80.13H74.4 M56.2,58.89H74.4 M64.9,37.64H74.4 M56.2,16.40H74.4 M92.60,444.7V462.6 M117.37,444.7V454.2 M142.14,444.7V462.6 M166.91,444.7V454.2 M191.68,444.7V462.6 M216.45,444.7V454.2 M241.22,444.7V462.6 M265.99,444.7V454.2 M290.76,444.7V462.6 M315.53,444.7V454.2 M340.30,444.7V462.6 M365.07,444.7V454.2 M389.84,444.7V462.6 M414.61,444.7V454.2 M439.38,444.7V462.6 M464.15,444.7V454.2 M497.90,444.7V462.6 M522.65,444.7V454.2 M547.41,444.7V462.6 M572.16,444.7V454.2 M596.92,444.7V462.6 M621.67,444.7V454.2 M646.43,444.7V462.6 M671.18,444.7V454.2 M695.94,444.7V462.6 M720.69,444.7V454.2 M745.45,444.7V462.6 M770.20,444.7V454.2 M794.96,444.7V462.6 M819.71,444.7V454.2 M844.47,444.7V462.6 M869.22,444.7V454.2 M872.7,24.35H890.5 M872.7,60.60H882.1 M872.7,96.85H890.5 M872.7,133.10H882.1 M872.7,169.35H890.5 M872.7,205.60H882.1 M872.7,241.85H890.5 M872.7,278.10H882.1 M872.7,314.35H890.5 M872.7,350.60H882.1 M872.7,386.85H890.5 M872.7,423.10H882.1"/>
<g style="opacity:0.999">
<text transform="translate(48.0,446.3) scale(0.9900,1)" style="font-size:15.8px" text-anchor="end">0</text>
<text transform="translate(48.0,403.8) scale(0.9900,1)" style="font-size:15.8px" text-anchor="end">2</text>
<text transform="translate(48.0,361.3) scale(0.9900,1)" style="font-size:15.8px" text-anchor="end">4</text>
<text transform="translate(48.0,318.8) scale(0.9900,1)" style="font-size:15.8px" text-anchor="end">6</text>
<text transform="translate(48.0,276.3) scale(0.9900,1)" style="font-size:15.8px" text-anchor="end">8</text>
<text transform="translate(48.0,233.8) scale(0.9900,1)" style="font-size:15.8px" text-anchor="end">10</text>
<text transform="translate(48.0,191.4) scale(0.9900,1)" style="font-size:15.8px" text-anchor="end">12</text>
<text transform="translate(48.0,148.9) scale(0.9900,1)" style="font-size:15.8px" text-anchor="end">14</text>
<text transform="translate(48.0,106.4) scale(0.9900,1)" style="font-size:15.8px" text-anchor="end">16</text>
<text transform="translate(48.0,63.9) scale(0.9900,1)" style="font-size:15.8px" text-anchor="end">18</text>
<text transform="translate(48.0,21.4) scale(0.9900,1)" style="font-size:15.8px" text-anchor="end">20</text>
<text transform="translate(91.0,477.9) scale(0.9900,1)" style="font-size:15.8px" text-anchor="middle">10</text>
<text transform="translate(141.2,477.9) scale(0.9900,1)" style="font-size:15.8px" text-anchor="middle">20</text>
<text transform="translate(191.3,477.9) scale(0.9900,1)" style="font-size:15.8px" text-anchor="middle">30</text>
<text transform="translate(241.4,477.9) scale(0.9900,1)" style="font-size:15.8px" text-anchor="middle">40</text>
<text transform="translate(291.6,477.9) scale(0.9900,1)" style="font-size:15.8px" text-anchor="middle">50</text>
<text transform="translate(341.8,477.9) scale(0.9900,1)" style="font-size:15.8px" text-anchor="middle">60</text>
<text transform="translate(391.9,477.9) scale(0.9900,1)" style="font-size:15.8px" text-anchor="middle">70</text>
<text transform="translate(442.1,477.9) scale(0.9900,1)" style="font-size:15.8px" text-anchor="middle">80</text>
<text transform="translate(493.0,477.9) scale(0.9900,1)" style="font-size:15.8px" text-anchor="middle">10</text>
<text transform="translate(543.0,477.9) scale(0.9900,1)" style="font-size:15.8px" text-anchor="middle">20</text>
<text transform="translate(593.0,477.9) scale(0.9900,1)" style="font-size:15.8px" text-anchor="middle">30</text>
<text transform="translate(643.0,477.9) scale(0.9900,1)" style="font-size:15.8px" text-anchor="middle">40</text>
<text transform="translate(693.0,477.9) scale(0.9900,1)" style="font-size:15.8px" text-anchor="middle">50</text>
<text transform="translate(743.0,477.9) scale(0.9900,1)" style="font-size:15.8px" text-anchor="middle">60</text>
<text transform="translate(793.0,477.9) scale(0.9900,1)" style="font-size:15.8px" text-anchor="middle">70</text>
<text transform="translate(843.0,477.9) scale(0.9900,1)" style="font-size:15.8px" text-anchor="middle">80</text>
<text transform="translate(895.0,30.2) scale(0.9900,1)" style="font-size:15.8px">4.0</text>
<text transform="translate(895.0,102.6) scale(0.9900,1)" style="font-size:15.8px">3.6</text>
<text transform="translate(895.0,175.2) scale(0.9900,1)" style="font-size:15.8px">3.2</text>
<text transform="translate(895.0,247.7) scale(0.9900,1)" style="font-size:15.8px">2.8</text>
<text transform="translate(895.0,320.2) scale(0.9900,1)" style="font-size:15.8px">2.4</text>
<text transform="translate(895.0,392.7) scale(0.9900,1)" style="font-size:15.8px">2.0</text>
<text transform="translate(191.6,66.7) scale(0.9900,1)" style="font-size:15.8px" text-anchor="end">160°</text>
<text transform="translate(191.6,103.7) scale(0.9900,1)" style="font-size:15.8px" text-anchor="end">120°</text>
<text transform="translate(191.6,137.5) scale(0.9900,1)" style="font-size:15.8px" text-anchor="end">83°</text>
<text transform="translate(191.6,169.7) scale(0.9900,1)" style="font-size:15.8px" text-anchor="end">69°</text>
<text transform="translate(191.6,214.3) scale(0.9900,1)" style="font-size:15.8px" text-anchor="end">44°</text>
<text transform="translate(191.6,241.7) scale(0.9900,1)" style="font-size:15.8px" text-anchor="end">33°</text>
<text transform="translate(191.6,280.3) scale(0.9900,1)" style="font-size:15.8px" text-anchor="end">18°</text>
<text transform="translate(191.6,307.4) scale(0.9900,1)" style="font-size:15.8px" text-anchor="end">0°</text>
<text transform="translate(191.6,335.7) scale(0.9900,1)" style="font-size:15.8px" text-anchor="end">−12°</text>
<text transform="translate(191.6,375.4) scale(0.9900,1)" style="font-size:15.8px" text-anchor="end">−34°</text>
<text transform="translate(191.6,421.6) scale(0.9900,1)" style="font-size:15.8px" text-anchor="end">−63°</text>
<text transform="translate(605.1,39.8) scale(0.9900,1)" style="font-size:15.8px" text-anchor="end">160°</text>
<text transform="translate(605.1,82.6) scale(0.9900,1)" style="font-size:15.8px" text-anchor="end">120°</text>
<text transform="translate(605.1,113.0) scale(0.9900,1)" style="font-size:15.8px" text-anchor="end">83°</text>
<text transform="translate(605.1,151.0) scale(0.9900,1)" style="font-size:15.8px" text-anchor="end">69°</text>
<text transform="translate(605.1,185.8) scale(0.9900,1)" style="font-size:15.8px" text-anchor="end">44°</text>
<text transform="translate(605.1,222.8) scale(0.9900,1)" style="font-size:15.8px" text-anchor="end">33°</text>
<text transform="translate(605.1,260.0) scale(0.9900,1)" style="font-size:15.8px" text-anchor="end">18°</text>
<text transform="translate(605.1,292.3) scale(0.9900,1)" style="font-size:15.8px" text-anchor="end">0°</text>
<text transform="translate(605.1,330.1) scale(0.9900,1)" style="font-size:15.8px" text-anchor="end">−12°</text>
<text transform="translate(605.1,364.1) scale(0.9900,1)" style="font-size:15.8px" text-anchor="end">−34°</text>
<text transform="translate(605.1,404.6) scale(0.9900,1)" style="font-size:15.8px" text-anchor="end">−63°</text>
<text transform="translate(87.3,30.9) scale(1.0500,1)" style="font-size:18.6px;font-weight:bold">a</text>
<text transform="translate(489.4,30.9) scale(1.0500,1)" style="font-size:18.6px;font-weight:bold">b</text>
<text transform="translate(266.4,509.4) scale(1.0000,1)" style="font-size:15.7px" text-anchor="middle">Frequency (cm<tspan style="font-size:10.2px" dy="-6.8">−1</tspan><tspan dy="6.8">)</tspan></text>
<text transform="translate(668.2,509.4) scale(1.0000,1)" style="font-size:15.7px" text-anchor="middle">Frequency (cm<tspan style="font-size:10.2px" dy="-6.8">−1</tspan><tspan dy="6.8">)</tspan></text>
<text transform="translate(14,229.2) rotate(-90) scale(1.0000,1)" style="font-size:15.7px" text-anchor="middle">Δabs (a.u.)</text>
<text transform="translate(932,206.3) rotate(90) scale(1.0000,1)" style="font-size:15.7px" text-anchor="middle">Refractive index <tspan style="font-style:italic">n</tspan></text>
</g>
</svg></body></html>
